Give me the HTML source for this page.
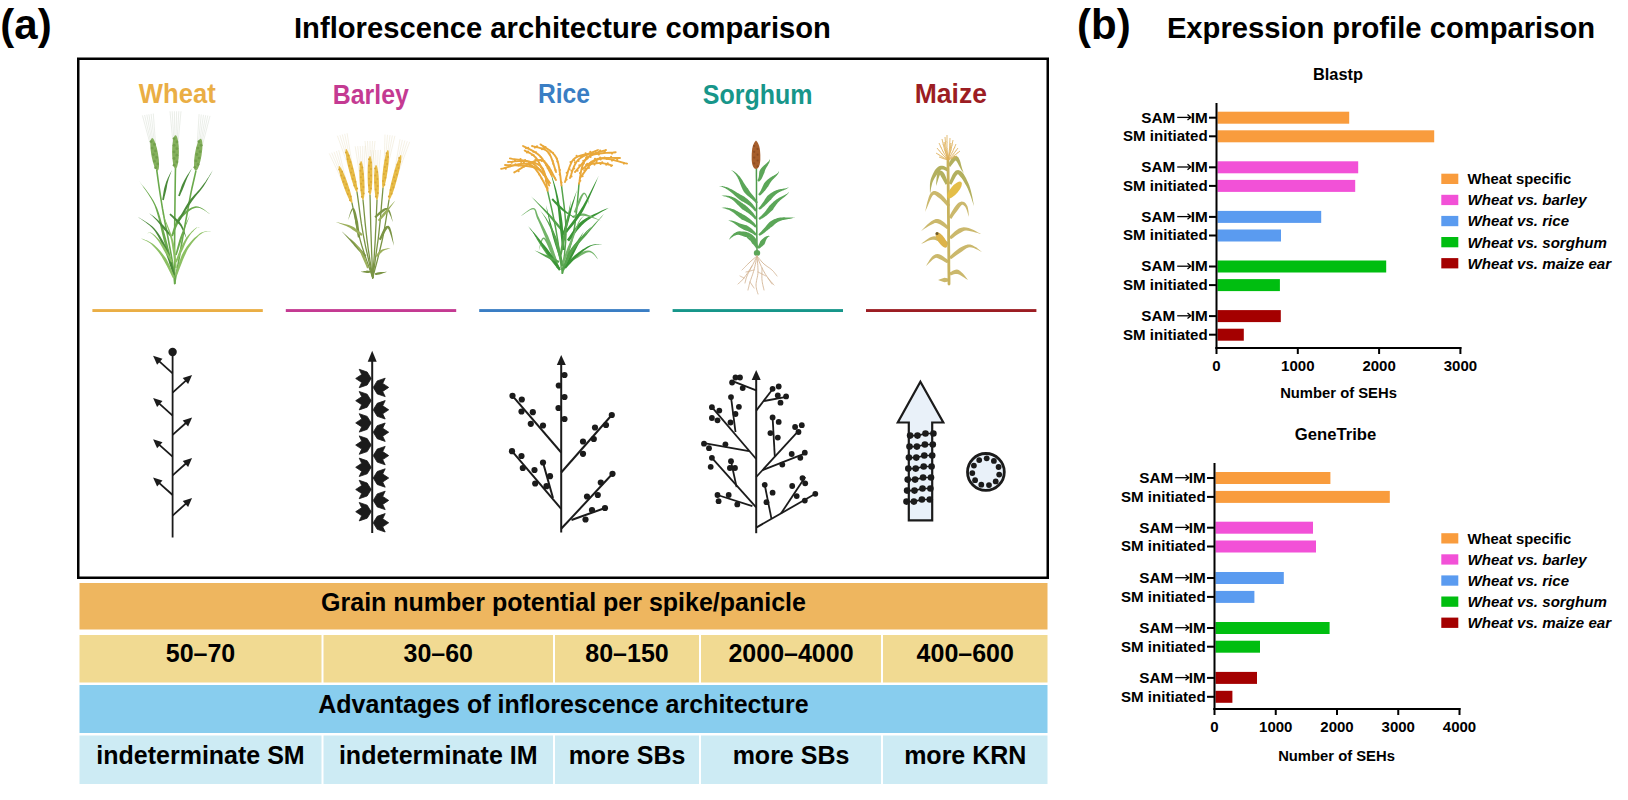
<!DOCTYPE html>
<html><head><meta charset="utf-8"><title>Inflorescence architecture and expression profile comparison</title>
<style>html,body{margin:0;padding:0;background:#fff;width:1628px;height:800px;overflow:hidden;font-family:"Liberation Sans",sans-serif}svg{display:block}</style>
</head><body><svg width="1628" height="800" viewBox="0 0 1628 800"><text x="0.3" y="38.5" font-family="Liberation Sans" font-size="42" font-weight="bold" font-style="normal" fill="#000" text-anchor="start" >(a)</text>
<text x="294" y="38.3" font-family="Liberation Sans" font-size="29.2" font-weight="bold" font-style="normal" fill="#000" text-anchor="start" >Inflorescence architecture comparison</text>
<text x="1077" y="38.5" font-family="Liberation Sans" font-size="42" font-weight="bold" font-style="normal" fill="#000" text-anchor="start" >(b)</text>
<text x="1166.9" y="38.2" font-family="Liberation Sans" font-size="29.2" font-weight="bold" font-style="normal" fill="#000" text-anchor="start" >Expression profile comparison</text>
<rect x="78.25" y="58.75" width="969.5" height="519" fill="none" stroke="#000" stroke-width="2.5"/>
<text x="138.8" y="102.6" font-family="Liberation Sans" font-size="27.5" font-weight="bold" font-style="normal" fill="#EAAE45" text-anchor="start" textLength="76.9" lengthAdjust="spacingAndGlyphs" >Wheat</text>
<text x="332.8" y="103.6" font-family="Liberation Sans" font-size="27.5" font-weight="bold" font-style="normal" fill="#C43A92" text-anchor="start" textLength="76.0" lengthAdjust="spacingAndGlyphs" >Barley</text>
<text x="538" y="102.6" font-family="Liberation Sans" font-size="27.5" font-weight="bold" font-style="normal" fill="#3A7EC4" text-anchor="start" textLength="52" lengthAdjust="spacingAndGlyphs" >Rice</text>
<text x="702.8" y="103.8" font-family="Liberation Sans" font-size="27.5" font-weight="bold" font-style="normal" fill="#17968A" text-anchor="start" textLength="109.7" lengthAdjust="spacingAndGlyphs" >Sorghum</text>
<text x="914.7" y="103" font-family="Liberation Sans" font-size="27.5" font-weight="bold" font-style="normal" fill="#9C1D23" text-anchor="start" textLength="72.2" lengthAdjust="spacingAndGlyphs" >Maize</text>
<rect x="92.4" y="309.1" width="170.4" height="2.9" fill="#EAAE45"/>
<rect x="285.8" y="309.1" width="170.4" height="2.9" fill="#C43A92"/>
<rect x="479.20000000000005" y="309.1" width="170.4" height="2.9" fill="#3A7EC4"/>
<rect x="672.6" y="309.1" width="170.4" height="2.9" fill="#17968A"/>
<rect x="866.0" y="309.1" width="170.4" height="2.9" fill="#9C1D23"/>
<rect x="79.5" y="583" width="968" height="46.5" fill="#EEB65F"/>
<rect x="79.5" y="685" width="968" height="48" fill="#88CDEE"/>
<rect x="79.5" y="635" width="242.0" height="47.5" fill="#F1DA92"/>
<rect x="79.5" y="735.5" width="242.0" height="48.5" fill="#CDEBF4"/>
<rect x="323.5" y="635" width="229.5" height="47.5" fill="#F1DA92"/>
<rect x="323.5" y="735.5" width="229.5" height="48.5" fill="#CDEBF4"/>
<rect x="555" y="635" width="144" height="47.5" fill="#F1DA92"/>
<rect x="555" y="735.5" width="144" height="48.5" fill="#CDEBF4"/>
<rect x="701" y="635" width="180" height="47.5" fill="#F1DA92"/>
<rect x="701" y="735.5" width="180" height="48.5" fill="#CDEBF4"/>
<rect x="883" y="635" width="164.5" height="47.5" fill="#F1DA92"/>
<rect x="883" y="735.5" width="164.5" height="48.5" fill="#CDEBF4"/>
<text x="563.5" y="611" font-family="Liberation Sans" font-size="25" font-weight="bold" font-style="normal" fill="#000" text-anchor="middle" >Grain number potential per spike/panicle</text>
<text x="563.5" y="712.7" font-family="Liberation Sans" font-size="25" font-weight="bold" font-style="normal" fill="#000" text-anchor="middle" >Advantages of inflorescence architecture</text>
<text x="200.5" y="662" font-family="Liberation Sans" font-size="25" font-weight="bold" font-style="normal" fill="#000" text-anchor="middle" >50–70</text>
<text x="200.5" y="764" font-family="Liberation Sans" font-size="25" font-weight="bold" font-style="normal" fill="#000" text-anchor="middle" >indeterminate SM</text>
<text x="438.25" y="662" font-family="Liberation Sans" font-size="25" font-weight="bold" font-style="normal" fill="#000" text-anchor="middle" >30–60</text>
<text x="438.25" y="764" font-family="Liberation Sans" font-size="25" font-weight="bold" font-style="normal" fill="#000" text-anchor="middle" >indeterminate IM</text>
<text x="627.0" y="662" font-family="Liberation Sans" font-size="25" font-weight="bold" font-style="normal" fill="#000" text-anchor="middle" >80–150</text>
<text x="627.0" y="764" font-family="Liberation Sans" font-size="25" font-weight="bold" font-style="normal" fill="#000" text-anchor="middle" >more SBs</text>
<text x="791.0" y="662" font-family="Liberation Sans" font-size="25" font-weight="bold" font-style="normal" fill="#000" text-anchor="middle" >2000–4000</text>
<text x="791.0" y="764" font-family="Liberation Sans" font-size="25" font-weight="bold" font-style="normal" fill="#000" text-anchor="middle" >more SBs</text>
<text x="965.25" y="662" font-family="Liberation Sans" font-size="25" font-weight="bold" font-style="normal" fill="#000" text-anchor="middle" >400–600</text>
<text x="965.25" y="764" font-family="Liberation Sans" font-size="25" font-weight="bold" font-style="normal" fill="#000" text-anchor="middle" >more KRN</text>
<rect x="1217.5" y="111.7" width="131.70000000000005" height="12" fill="#F99C3D"/>
<rect x="1209.0" y="116.7" width="7.5" height="2" fill="#000"/>
<text x="1207.7" y="122.60000000000001" font-family="Liberation Sans" font-size="15.3" font-weight="bold" font-style="normal" fill="#000" text-anchor="end" >IM</text>
<text x="1175.2" y="122.60000000000001" font-family="Liberation Sans" font-size="15.3" font-weight="bold" font-style="normal" fill="#000" text-anchor="end" >SAM</text>
<line x1="1177.2" y1="117.4" x2="1190.5" y2="117.4" stroke="#000" stroke-width="1.3"/>
<polyline points="1187.5,114.5 1190.8,117.4 1187.5,120.10000000000001" fill="none" stroke="#000" stroke-width="1.3"/>
<rect x="1217.5" y="130.3" width="216.70000000000005" height="12" fill="#F99C3D"/>
<rect x="1209.0" y="135.3" width="7.5" height="2" fill="#000"/>
<text x="1207.7" y="141.20000000000002" font-family="Liberation Sans" font-size="15.1" font-weight="bold" font-style="normal" fill="#000" text-anchor="end" >SM initiated</text>
<rect x="1217.5" y="161.3" width="140.70000000000005" height="12" fill="#F251D7"/>
<rect x="1209.0" y="166.3" width="7.5" height="2" fill="#000"/>
<text x="1207.7" y="172.20000000000002" font-family="Liberation Sans" font-size="15.3" font-weight="bold" font-style="normal" fill="#000" text-anchor="end" >IM</text>
<text x="1175.2" y="172.20000000000002" font-family="Liberation Sans" font-size="15.3" font-weight="bold" font-style="normal" fill="#000" text-anchor="end" >SAM</text>
<line x1="1177.2" y1="167.0" x2="1190.5" y2="167.0" stroke="#000" stroke-width="1.3"/>
<polyline points="1187.5,164.10000000000002 1190.8,167.0 1187.5,169.70000000000002" fill="none" stroke="#000" stroke-width="1.3"/>
<rect x="1217.5" y="179.9" width="137.70000000000005" height="12" fill="#F251D7"/>
<rect x="1209.0" y="184.9" width="7.5" height="2" fill="#000"/>
<text x="1207.7" y="190.8" font-family="Liberation Sans" font-size="15.1" font-weight="bold" font-style="normal" fill="#000" text-anchor="end" >SM initiated</text>
<rect x="1217.5" y="210.9" width="103.70000000000005" height="12" fill="#5A9BF0"/>
<rect x="1209.0" y="215.9" width="7.5" height="2" fill="#000"/>
<text x="1207.7" y="221.8" font-family="Liberation Sans" font-size="15.3" font-weight="bold" font-style="normal" fill="#000" text-anchor="end" >IM</text>
<text x="1175.2" y="221.8" font-family="Liberation Sans" font-size="15.3" font-weight="bold" font-style="normal" fill="#000" text-anchor="end" >SAM</text>
<line x1="1177.2" y1="216.6" x2="1190.5" y2="216.6" stroke="#000" stroke-width="1.3"/>
<polyline points="1187.5,213.70000000000002 1190.8,216.6 1187.5,219.3" fill="none" stroke="#000" stroke-width="1.3"/>
<rect x="1217.5" y="229.5" width="63.5" height="12" fill="#5A9BF0"/>
<rect x="1209.0" y="234.5" width="7.5" height="2" fill="#000"/>
<text x="1207.7" y="240.4" font-family="Liberation Sans" font-size="15.1" font-weight="bold" font-style="normal" fill="#000" text-anchor="end" >SM initiated</text>
<rect x="1217.5" y="260.5" width="168.70000000000005" height="12" fill="#00BE10"/>
<rect x="1209.0" y="265.5" width="7.5" height="2" fill="#000"/>
<text x="1207.7" y="271.4" font-family="Liberation Sans" font-size="15.3" font-weight="bold" font-style="normal" fill="#000" text-anchor="end" >IM</text>
<text x="1175.2" y="271.4" font-family="Liberation Sans" font-size="15.3" font-weight="bold" font-style="normal" fill="#000" text-anchor="end" >SAM</text>
<line x1="1177.2" y1="266.2" x2="1190.5" y2="266.2" stroke="#000" stroke-width="1.3"/>
<polyline points="1187.5,263.3 1190.8,266.2 1187.5,268.9" fill="none" stroke="#000" stroke-width="1.3"/>
<rect x="1217.5" y="279.1" width="62.40000000000009" height="12" fill="#00BE10"/>
<rect x="1209.0" y="284.1" width="7.5" height="2" fill="#000"/>
<text x="1207.7" y="290.0" font-family="Liberation Sans" font-size="15.1" font-weight="bold" font-style="normal" fill="#000" text-anchor="end" >SM initiated</text>
<rect x="1217.5" y="310.1" width="63.299999999999955" height="12" fill="#A40000"/>
<rect x="1209.0" y="315.1" width="7.5" height="2" fill="#000"/>
<text x="1207.7" y="321.0" font-family="Liberation Sans" font-size="15.3" font-weight="bold" font-style="normal" fill="#000" text-anchor="end" >IM</text>
<text x="1175.2" y="321.0" font-family="Liberation Sans" font-size="15.3" font-weight="bold" font-style="normal" fill="#000" text-anchor="end" >SAM</text>
<line x1="1177.2" y1="315.8" x2="1190.5" y2="315.8" stroke="#000" stroke-width="1.3"/>
<polyline points="1187.5,312.90000000000003 1190.8,315.8 1187.5,318.5" fill="none" stroke="#000" stroke-width="1.3"/>
<rect x="1217.5" y="328.7" width="26.299999999999955" height="12" fill="#A40000"/>
<rect x="1209.0" y="333.7" width="7.5" height="2" fill="#000"/>
<text x="1207.7" y="339.59999999999997" font-family="Liberation Sans" font-size="15.1" font-weight="bold" font-style="normal" fill="#000" text-anchor="end" >SM initiated</text>
<rect x="1215.5" y="103" width="2" height="246" fill="#000"/>
<rect x="1215.5" y="347" width="245.9000000000001" height="2" fill="#000"/>
<rect x="1215.5" y="347" width="2" height="7" fill="#000"/>
<text x="1216.5" y="370.7" font-family="Liberation Sans" font-size="15" font-weight="bold" font-style="normal" fill="#000" text-anchor="middle" >0</text>
<rect x="1296.8" y="347" width="2" height="7" fill="#000"/>
<text x="1297.8" y="370.7" font-family="Liberation Sans" font-size="15" font-weight="bold" font-style="normal" fill="#000" text-anchor="middle" >1000</text>
<rect x="1378.1" y="347" width="2" height="7" fill="#000"/>
<text x="1379.1" y="370.7" font-family="Liberation Sans" font-size="15" font-weight="bold" font-style="normal" fill="#000" text-anchor="middle" >2000</text>
<rect x="1459.4" y="347" width="2" height="7" fill="#000"/>
<text x="1460.4" y="370.7" font-family="Liberation Sans" font-size="15" font-weight="bold" font-style="normal" fill="#000" text-anchor="middle" >3000</text>
<text x="1338.5" y="398.3" font-family="Liberation Sans" font-size="14.8" font-weight="bold" font-style="normal" fill="#000" text-anchor="middle" >Number of SEHs</text>
<text x="1313" y="80.3" font-family="Liberation Sans" font-size="16.8" font-weight="bold" font-style="normal" fill="#000" text-anchor="start" textLength="50" lengthAdjust="spacingAndGlyphs" >Blastp</text>
<rect x="1441.3" y="173.7" width="17" height="10.3" fill="#F99C3D"/>
<text x="1467.6" y="184.2" font-family="Liberation Sans" font-size="14.8" font-weight="bold" font-style="normal" fill="#000" text-anchor="start" >Wheat specific</text>
<rect x="1441.3" y="194.79999999999998" width="17" height="10.3" fill="#F251D7"/>
<text x="1467.6" y="205.29999999999998" font-family="Liberation Sans" font-size="15.1" font-weight="bold" font-style="italic" fill="#000" text-anchor="start" >Wheat vs. barley</text>
<rect x="1441.3" y="215.89999999999998" width="17" height="10.3" fill="#5A9BF0"/>
<text x="1467.6" y="226.39999999999998" font-family="Liberation Sans" font-size="15.1" font-weight="bold" font-style="italic" fill="#000" text-anchor="start" >Wheat vs. rice</text>
<rect x="1441.3" y="237.0" width="17" height="10.3" fill="#00BE10"/>
<text x="1467.6" y="247.5" font-family="Liberation Sans" font-size="15.1" font-weight="bold" font-style="italic" fill="#000" text-anchor="start" >Wheat vs. sorghum</text>
<rect x="1441.3" y="258.1" width="17" height="10.3" fill="#A40000"/>
<text x="1467.6" y="268.6" font-family="Liberation Sans" font-size="15.1" font-weight="bold" font-style="italic" fill="#000" text-anchor="start" >Wheat vs. maize ear</text>
<rect x="1215.5" y="472" width="114.90000000000009" height="12" fill="#F99C3D"/>
<rect x="1207.0" y="477" width="7.5" height="2" fill="#000"/>
<text x="1205.7" y="482.9" font-family="Liberation Sans" font-size="15.3" font-weight="bold" font-style="normal" fill="#000" text-anchor="end" >IM</text>
<text x="1173.2" y="482.9" font-family="Liberation Sans" font-size="15.3" font-weight="bold" font-style="normal" fill="#000" text-anchor="end" >SAM</text>
<line x1="1175.2" y1="477.7" x2="1188.5" y2="477.7" stroke="#000" stroke-width="1.3"/>
<polyline points="1185.5,474.8 1188.8,477.7 1185.5,480.4" fill="none" stroke="#000" stroke-width="1.3"/>
<rect x="1215.5" y="490.9" width="174.29999999999995" height="12" fill="#F99C3D"/>
<rect x="1207.0" y="495.9" width="7.5" height="2" fill="#000"/>
<text x="1205.7" y="501.79999999999995" font-family="Liberation Sans" font-size="15.1" font-weight="bold" font-style="normal" fill="#000" text-anchor="end" >SM initiated</text>
<rect x="1215.5" y="521.7" width="97.5" height="12" fill="#F251D7"/>
<rect x="1207.0" y="526.7" width="7.5" height="2" fill="#000"/>
<text x="1205.7" y="532.6" font-family="Liberation Sans" font-size="15.3" font-weight="bold" font-style="normal" fill="#000" text-anchor="end" >IM</text>
<text x="1173.2" y="532.6" font-family="Liberation Sans" font-size="15.3" font-weight="bold" font-style="normal" fill="#000" text-anchor="end" >SAM</text>
<line x1="1175.2" y1="527.4000000000001" x2="1188.5" y2="527.4000000000001" stroke="#000" stroke-width="1.3"/>
<polyline points="1185.5,524.5 1188.8,527.4000000000001 1185.5,530.1" fill="none" stroke="#000" stroke-width="1.3"/>
<rect x="1215.5" y="540.5" width="100.5" height="12" fill="#F251D7"/>
<rect x="1207.0" y="545.5" width="7.5" height="2" fill="#000"/>
<text x="1205.7" y="551.4" font-family="Liberation Sans" font-size="15.1" font-weight="bold" font-style="normal" fill="#000" text-anchor="end" >SM initiated</text>
<rect x="1215.5" y="572" width="68.29999999999995" height="12" fill="#5A9BF0"/>
<rect x="1207.0" y="577" width="7.5" height="2" fill="#000"/>
<text x="1205.7" y="582.9" font-family="Liberation Sans" font-size="15.3" font-weight="bold" font-style="normal" fill="#000" text-anchor="end" >IM</text>
<text x="1173.2" y="582.9" font-family="Liberation Sans" font-size="15.3" font-weight="bold" font-style="normal" fill="#000" text-anchor="end" >SAM</text>
<line x1="1175.2" y1="577.7" x2="1188.5" y2="577.7" stroke="#000" stroke-width="1.3"/>
<polyline points="1185.5,574.8 1188.8,577.7 1185.5,580.4" fill="none" stroke="#000" stroke-width="1.3"/>
<rect x="1215.5" y="590.9" width="38.90000000000009" height="12" fill="#5A9BF0"/>
<rect x="1207.0" y="595.9" width="7.5" height="2" fill="#000"/>
<text x="1205.7" y="601.8" font-family="Liberation Sans" font-size="15.1" font-weight="bold" font-style="normal" fill="#000" text-anchor="end" >SM initiated</text>
<rect x="1215.5" y="622" width="114.09999999999991" height="12" fill="#00BE10"/>
<rect x="1207.0" y="627" width="7.5" height="2" fill="#000"/>
<text x="1205.7" y="632.9" font-family="Liberation Sans" font-size="15.3" font-weight="bold" font-style="normal" fill="#000" text-anchor="end" >IM</text>
<text x="1173.2" y="632.9" font-family="Liberation Sans" font-size="15.3" font-weight="bold" font-style="normal" fill="#000" text-anchor="end" >SAM</text>
<line x1="1175.2" y1="627.7" x2="1188.5" y2="627.7" stroke="#000" stroke-width="1.3"/>
<polyline points="1185.5,624.8 1188.8,627.7 1185.5,630.4" fill="none" stroke="#000" stroke-width="1.3"/>
<rect x="1215.5" y="640.7" width="44.5" height="12" fill="#00BE10"/>
<rect x="1207.0" y="645.7" width="7.5" height="2" fill="#000"/>
<text x="1205.7" y="651.6" font-family="Liberation Sans" font-size="15.1" font-weight="bold" font-style="normal" fill="#000" text-anchor="end" >SM initiated</text>
<rect x="1215.5" y="671.9" width="41.5" height="12" fill="#A40000"/>
<rect x="1207.0" y="676.9" width="7.5" height="2" fill="#000"/>
<text x="1205.7" y="682.8" font-family="Liberation Sans" font-size="15.3" font-weight="bold" font-style="normal" fill="#000" text-anchor="end" >IM</text>
<text x="1173.2" y="682.8" font-family="Liberation Sans" font-size="15.3" font-weight="bold" font-style="normal" fill="#000" text-anchor="end" >SAM</text>
<line x1="1175.2" y1="677.6" x2="1188.5" y2="677.6" stroke="#000" stroke-width="1.3"/>
<polyline points="1185.5,674.6999999999999 1188.8,677.6 1185.5,680.3" fill="none" stroke="#000" stroke-width="1.3"/>
<rect x="1215.5" y="690.8" width="16.90000000000009" height="12" fill="#A40000"/>
<rect x="1207.0" y="695.8" width="7.5" height="2" fill="#000"/>
<text x="1205.7" y="701.6999999999999" font-family="Liberation Sans" font-size="15.1" font-weight="bold" font-style="normal" fill="#000" text-anchor="end" >SM initiated</text>
<rect x="1213.5" y="463" width="2" height="247" fill="#000"/>
<rect x="1213.5" y="708" width="247.0" height="2" fill="#000"/>
<rect x="1213.5" y="708" width="2" height="7" fill="#000"/>
<text x="1214.5" y="732.1" font-family="Liberation Sans" font-size="15" font-weight="bold" font-style="normal" fill="#000" text-anchor="middle" >0</text>
<rect x="1274.75" y="708" width="2" height="7" fill="#000"/>
<text x="1275.75" y="732.1" font-family="Liberation Sans" font-size="15" font-weight="bold" font-style="normal" fill="#000" text-anchor="middle" >1000</text>
<rect x="1336.0" y="708" width="2" height="7" fill="#000"/>
<text x="1337.0" y="732.1" font-family="Liberation Sans" font-size="15" font-weight="bold" font-style="normal" fill="#000" text-anchor="middle" >2000</text>
<rect x="1397.25" y="708" width="2" height="7" fill="#000"/>
<text x="1398.25" y="732.1" font-family="Liberation Sans" font-size="15" font-weight="bold" font-style="normal" fill="#000" text-anchor="middle" >3000</text>
<rect x="1458.5" y="708" width="2" height="7" fill="#000"/>
<text x="1459.5" y="732.1" font-family="Liberation Sans" font-size="15" font-weight="bold" font-style="normal" fill="#000" text-anchor="middle" >4000</text>
<text x="1336.5" y="760.5" font-family="Liberation Sans" font-size="14.8" font-weight="bold" font-style="normal" fill="#000" text-anchor="middle" >Number of SEHs</text>
<text x="1294.8" y="440.4" font-family="Liberation Sans" font-size="16.8" font-weight="bold" font-style="normal" fill="#000" text-anchor="start" textLength="81.5" lengthAdjust="spacingAndGlyphs" >GeneTribe</text>
<rect x="1441.3" y="533.2" width="17" height="10.3" fill="#F99C3D"/>
<text x="1467.6" y="543.7" font-family="Liberation Sans" font-size="14.8" font-weight="bold" font-style="normal" fill="#000" text-anchor="start" >Wheat specific</text>
<rect x="1441.3" y="554.3000000000001" width="17" height="10.3" fill="#F251D7"/>
<text x="1467.6" y="564.8000000000001" font-family="Liberation Sans" font-size="15.1" font-weight="bold" font-style="italic" fill="#000" text-anchor="start" >Wheat vs. barley</text>
<rect x="1441.3" y="575.4000000000001" width="17" height="10.3" fill="#5A9BF0"/>
<text x="1467.6" y="585.9000000000001" font-family="Liberation Sans" font-size="15.1" font-weight="bold" font-style="italic" fill="#000" text-anchor="start" >Wheat vs. rice</text>
<rect x="1441.3" y="596.5" width="17" height="10.3" fill="#00BE10"/>
<text x="1467.6" y="607.0" font-family="Liberation Sans" font-size="15.1" font-weight="bold" font-style="italic" fill="#000" text-anchor="start" >Wheat vs. sorghum</text>
<rect x="1441.3" y="617.6" width="17" height="10.3" fill="#A40000"/>
<text x="1467.6" y="628.1" font-family="Liberation Sans" font-size="15.1" font-weight="bold" font-style="italic" fill="#000" text-anchor="start" >Wheat vs. maize ear</text>
<line x1="172.6" y1="352.0" x2="172.6" y2="537.5" stroke="#1b1b1b" stroke-width="1.8"/>
<circle cx="172.6" cy="352.0" r="4.2" fill="#1b1b1b"/>
<line x1="172.6" y1="373.3" x2="157.1" y2="359.4" stroke="#1b1b1b" stroke-width="1.8"/>
<polygon points="153.1,355.8 162.5,358.8 157.1,364.8" fill="#1b1b1b"/>
<line x1="172.6" y1="415.6" x2="157.1" y2="401.7" stroke="#1b1b1b" stroke-width="1.8"/>
<polygon points="153.1,398.1 162.5,401.1 157.1,407.1" fill="#1b1b1b"/>
<line x1="172.6" y1="456.7" x2="157.1" y2="442.8" stroke="#1b1b1b" stroke-width="1.8"/>
<polygon points="153.1,439.2 162.5,442.2 157.1,448.2" fill="#1b1b1b"/>
<line x1="172.6" y1="495.0" x2="157.1" y2="481.1" stroke="#1b1b1b" stroke-width="1.8"/>
<polygon points="153.1,477.5 162.5,480.5 157.1,486.5" fill="#1b1b1b"/>
<line x1="172.6" y1="392.6" x2="188.1" y2="378.7" stroke="#1b1b1b" stroke-width="1.8"/>
<polygon points="192.1,375.1 188.1,384.1 182.7,378.1" fill="#1b1b1b"/>
<line x1="172.6" y1="434.9" x2="188.1" y2="421.0" stroke="#1b1b1b" stroke-width="1.8"/>
<polygon points="192.1,417.4 188.1,426.4 182.7,420.4" fill="#1b1b1b"/>
<line x1="172.6" y1="475.4" x2="188.1" y2="461.5" stroke="#1b1b1b" stroke-width="1.8"/>
<polygon points="192.1,457.9 188.1,466.9 182.7,460.9" fill="#1b1b1b"/>
<line x1="172.6" y1="515.6" x2="188.1" y2="501.7" stroke="#1b1b1b" stroke-width="1.8"/>
<polygon points="192.1,498.1 188.1,507.1 182.7,501.1" fill="#1b1b1b"/>
<line x1="372.2" y1="358.0" x2="372.2" y2="533.0" stroke="#1b1b1b" stroke-width="2"/>
<polygon points="372.2,350.8 376.7,361.8 367.7,361.8" fill="#1b1b1b"/>
<polygon points="371.2,378.5 367.2,372.0 359.2,369.3 361.7,374.5 355.7,378.5 361.7,382.5 359.2,387.7 367.2,385.0" fill="#1b1b1b" stroke="#1b1b1b" stroke-width="0.8" stroke-linejoin="round"/>
<polygon points="371.2,400.7 367.2,394.2 359.2,391.5 361.7,396.7 355.7,400.7 361.7,404.7 359.2,409.9 367.2,407.2" fill="#1b1b1b" stroke="#1b1b1b" stroke-width="0.8" stroke-linejoin="round"/>
<polygon points="371.2,422.9 367.2,416.4 359.2,413.7 361.7,418.9 355.7,422.9 361.7,426.9 359.2,432.1 367.2,429.4" fill="#1b1b1b" stroke="#1b1b1b" stroke-width="0.8" stroke-linejoin="round"/>
<polygon points="371.2,445.1 367.2,438.6 359.2,435.9 361.7,441.1 355.7,445.1 361.7,449.1 359.2,454.3 367.2,451.6" fill="#1b1b1b" stroke="#1b1b1b" stroke-width="0.8" stroke-linejoin="round"/>
<polygon points="371.2,467.3 367.2,460.8 359.2,458.1 361.7,463.3 355.7,467.3 361.7,471.3 359.2,476.5 367.2,473.8" fill="#1b1b1b" stroke="#1b1b1b" stroke-width="0.8" stroke-linejoin="round"/>
<polygon points="371.2,489.5 367.2,483.0 359.2,480.3 361.7,485.5 355.7,489.5 361.7,493.5 359.2,498.7 367.2,496.0" fill="#1b1b1b" stroke="#1b1b1b" stroke-width="0.8" stroke-linejoin="round"/>
<polygon points="371.2,511.7 367.2,505.2 359.2,502.5 361.7,507.7 355.7,511.7 361.7,515.7 359.2,520.9 367.2,518.2" fill="#1b1b1b" stroke="#1b1b1b" stroke-width="0.8" stroke-linejoin="round"/>
<polygon points="373.2,387.4 377.2,380.9 385.2,378.2 382.7,383.4 388.7,387.4 382.7,391.4 385.2,396.6 377.2,393.9" fill="#1b1b1b" stroke="#1b1b1b" stroke-width="0.8" stroke-linejoin="round"/>
<polygon points="373.2,409.8 377.2,403.3 385.2,400.6 382.7,405.8 388.7,409.8 382.7,413.8 385.2,419.0 377.2,416.3" fill="#1b1b1b" stroke="#1b1b1b" stroke-width="0.8" stroke-linejoin="round"/>
<polygon points="373.2,432.2 377.2,425.7 385.2,423.0 382.7,428.2 388.7,432.2 382.7,436.2 385.2,441.4 377.2,438.7" fill="#1b1b1b" stroke="#1b1b1b" stroke-width="0.8" stroke-linejoin="round"/>
<polygon points="373.2,455.6 377.2,449.1 385.2,446.4 382.7,451.6 388.7,455.6 382.7,459.6 385.2,464.8 377.2,462.1" fill="#1b1b1b" stroke="#1b1b1b" stroke-width="0.8" stroke-linejoin="round"/>
<polygon points="373.2,478.0 377.2,471.5 385.2,468.8 382.7,474.0 388.7,478.0 382.7,482.0 385.2,487.2 377.2,484.5" fill="#1b1b1b" stroke="#1b1b1b" stroke-width="0.8" stroke-linejoin="round"/>
<polygon points="373.2,500.4 377.2,493.9 385.2,491.2 382.7,496.4 388.7,500.4 382.7,504.4 385.2,509.6 377.2,506.9" fill="#1b1b1b" stroke="#1b1b1b" stroke-width="0.8" stroke-linejoin="round"/>
<polygon points="373.2,522.8 377.2,516.3 385.2,513.6 382.7,518.8 388.7,522.8 382.7,526.8 385.2,532.0 377.2,529.3" fill="#1b1b1b" stroke="#1b1b1b" stroke-width="0.8" stroke-linejoin="round"/>
<line x1="561.2" y1="362.0" x2="561.2" y2="532.5" stroke="#1b1b1b" stroke-width="2"/>
<polygon points="561.2,355.0 565.8,365.0 556.8,365.0" fill="#1b1b1b"/>
<circle cx="564.5" cy="375.0" r="3.1" fill="#1b1b1b"/>
<circle cx="558.8" cy="385.5" r="3.1" fill="#1b1b1b"/>
<circle cx="564.5" cy="397.0" r="3.1" fill="#1b1b1b"/>
<circle cx="558.5" cy="408.0" r="3.1" fill="#1b1b1b"/>
<circle cx="564.5" cy="419.0" r="3.1" fill="#1b1b1b"/>
<line x1="561.2" y1="452.5" x2="512.5" y2="395.8" stroke="#1b1b1b" stroke-width="2"/>
<circle cx="512.5" cy="395.8" r="3.1" fill="#1b1b1b"/>
<circle cx="521.8" cy="399.5" r="3.1" fill="#1b1b1b"/>
<circle cx="521.5" cy="411.5" r="3.1" fill="#1b1b1b"/>
<circle cx="532.8" cy="412.2" r="3.1" fill="#1b1b1b"/>
<circle cx="530.8" cy="423.8" r="3.1" fill="#1b1b1b"/>
<circle cx="543.0" cy="425.5" r="3.1" fill="#1b1b1b"/>
<line x1="561.2" y1="472.5" x2="611.8" y2="415.0" stroke="#1b1b1b" stroke-width="2"/>
<circle cx="611.8" cy="415.0" r="3.1" fill="#1b1b1b"/>
<circle cx="606.0" cy="425.0" r="3.1" fill="#1b1b1b"/>
<circle cx="595.0" cy="427.5" r="3.1" fill="#1b1b1b"/>
<circle cx="593.8" cy="439.0" r="3.1" fill="#1b1b1b"/>
<circle cx="583.0" cy="441.5" r="3.1" fill="#1b1b1b"/>
<circle cx="583.0" cy="453.8" r="3.1" fill="#1b1b1b"/>
<line x1="561.2" y1="508.8" x2="512.0" y2="451.2" stroke="#1b1b1b" stroke-width="2"/>
<line x1="553.0" y1="498.0" x2="543.0" y2="462.5" stroke="#1b1b1b" stroke-width="2"/>
<circle cx="512.0" cy="451.2" r="3.1" fill="#1b1b1b"/>
<circle cx="521.5" cy="456.0" r="3.1" fill="#1b1b1b"/>
<circle cx="522.8" cy="468.0" r="3.1" fill="#1b1b1b"/>
<circle cx="534.5" cy="470.0" r="3.1" fill="#1b1b1b"/>
<circle cx="535.2" cy="483.5" r="3.1" fill="#1b1b1b"/>
<circle cx="543.0" cy="462.5" r="3.1" fill="#1b1b1b"/>
<circle cx="550.0" cy="476.2" r="3.1" fill="#1b1b1b"/>
<circle cx="546.5" cy="486.2" r="3.1" fill="#1b1b1b"/>
<line x1="561.2" y1="528.8" x2="612.5" y2="473.8" stroke="#1b1b1b" stroke-width="2"/>
<line x1="571.5" y1="520.0" x2="605.0" y2="508.0" stroke="#1b1b1b" stroke-width="2"/>
<circle cx="612.5" cy="473.8" r="3.1" fill="#1b1b1b"/>
<circle cx="600.8" cy="482.5" r="3.1" fill="#1b1b1b"/>
<circle cx="597.8" cy="495.0" r="3.1" fill="#1b1b1b"/>
<circle cx="587.0" cy="496.5" r="3.1" fill="#1b1b1b"/>
<circle cx="605.0" cy="508.0" r="3.1" fill="#1b1b1b"/>
<circle cx="592.0" cy="510.0" r="3.1" fill="#1b1b1b"/>
<circle cx="585.5" cy="519.5" r="3.1" fill="#1b1b1b"/>
<line x1="756.2" y1="377.0" x2="756.2" y2="533.2" stroke="#1b1b1b" stroke-width="2"/>
<polygon points="756.2,370.1 760.7,380.1 751.7,380.1" fill="#1b1b1b"/>
<line x1="756.2" y1="390.4" x2="733.2" y2="381.4" stroke="#1b1b1b" stroke-width="1.8"/>
<circle cx="732.1" cy="382.5" r="2.9" fill="#1b1b1b"/>
<circle cx="735.5" cy="377.5" r="2.9" fill="#1b1b1b"/>
<circle cx="740.0" cy="377.5" r="2.9" fill="#1b1b1b"/>
<circle cx="742.7" cy="388.1" r="2.9" fill="#1b1b1b"/>
<line x1="756.2" y1="410.6" x2="772.6" y2="389.2" stroke="#1b1b1b" stroke-width="1.8"/>
<circle cx="772.6" cy="388.8" r="2.9" fill="#1b1b1b"/>
<circle cx="778.7" cy="386.5" r="2.9" fill="#1b1b1b"/>
<line x1="764.0" y1="401.0" x2="785.0" y2="397.1" stroke="#1b1b1b" stroke-width="1.8"/>
<circle cx="777.8" cy="395.5" r="2.9" fill="#1b1b1b"/>
<circle cx="786.1" cy="396.4" r="2.9" fill="#1b1b1b"/>
<circle cx="780.5" cy="402.7" r="2.9" fill="#1b1b1b"/>
<line x1="756.2" y1="459.0" x2="711.9" y2="407.2" stroke="#1b1b1b" stroke-width="1.8"/>
<circle cx="711.9" cy="407.2" r="2.9" fill="#1b1b1b"/>
<circle cx="719.3" cy="410.6" r="2.9" fill="#1b1b1b"/>
<circle cx="711.9" cy="418.0" r="2.9" fill="#1b1b1b"/>
<circle cx="717.5" cy="420.3" r="2.9" fill="#1b1b1b"/>
<line x1="735.5" y1="432.0" x2="731.0" y2="397.1" stroke="#1b1b1b" stroke-width="1.8"/>
<circle cx="731.0" cy="397.1" r="2.9" fill="#1b1b1b"/>
<circle cx="738.9" cy="406.8" r="2.9" fill="#1b1b1b"/>
<circle cx="735.5" cy="414.0" r="2.9" fill="#1b1b1b"/>
<circle cx="730.5" cy="422.5" r="2.9" fill="#1b1b1b"/>
<line x1="749.0" y1="451.1" x2="704.0" y2="443.2" stroke="#1b1b1b" stroke-width="1.8"/>
<circle cx="704.0" cy="443.7" r="2.9" fill="#1b1b1b"/>
<circle cx="709.0" cy="448.2" r="2.9" fill="#1b1b1b"/>
<circle cx="725.4" cy="444.3" r="2.9" fill="#1b1b1b"/>
<line x1="756.2" y1="477.0" x2="798.5" y2="430.9" stroke="#1b1b1b" stroke-width="1.8"/>
<circle cx="795.1" cy="427.0" r="2.9" fill="#1b1b1b"/>
<circle cx="801.8" cy="425.2" r="2.9" fill="#1b1b1b"/>
<circle cx="798.5" cy="432.0" r="2.9" fill="#1b1b1b"/>
<line x1="774.8" y1="456.5" x2="772.6" y2="417.4" stroke="#1b1b1b" stroke-width="1.8"/>
<circle cx="772.6" cy="417.4" r="2.9" fill="#1b1b1b"/>
<circle cx="778.7" cy="421.9" r="2.9" fill="#1b1b1b"/>
<circle cx="770.4" cy="433.1" r="2.9" fill="#1b1b1b"/>
<circle cx="777.8" cy="437.6" r="2.9" fill="#1b1b1b"/>
<line x1="762.5" y1="470.2" x2="805.2" y2="453.3" stroke="#1b1b1b" stroke-width="1.8"/>
<circle cx="791.7" cy="454.0" r="2.9" fill="#1b1b1b"/>
<circle cx="804.8" cy="452.7" r="2.9" fill="#1b1b1b"/>
<circle cx="800.3" cy="457.8" r="2.9" fill="#1b1b1b"/>
<circle cx="782.3" cy="464.6" r="2.9" fill="#1b1b1b"/>
<line x1="756.2" y1="507.3" x2="711.9" y2="457.8" stroke="#1b1b1b" stroke-width="1.8"/>
<circle cx="711.9" cy="457.8" r="2.9" fill="#1b1b1b"/>
<circle cx="710.7" cy="466.8" r="2.9" fill="#1b1b1b"/>
<line x1="736.6" y1="487.1" x2="731.0" y2="461.2" stroke="#1b1b1b" stroke-width="1.8"/>
<circle cx="731.0" cy="461.2" r="2.9" fill="#1b1b1b"/>
<circle cx="729.9" cy="468.0" r="2.9" fill="#1b1b1b"/>
<circle cx="735.0" cy="468.0" r="2.9" fill="#1b1b1b"/>
<line x1="752.4" y1="506.2" x2="717.5" y2="495.0" stroke="#1b1b1b" stroke-width="1.8"/>
<circle cx="717.5" cy="495.0" r="2.9" fill="#1b1b1b"/>
<circle cx="718.6" cy="501.2" r="2.9" fill="#1b1b1b"/>
<circle cx="728.7" cy="495.0" r="2.9" fill="#1b1b1b"/>
<circle cx="737.3" cy="504.4" r="2.9" fill="#1b1b1b"/>
<line x1="756.2" y1="527.6" x2="815.3" y2="493.8" stroke="#1b1b1b" stroke-width="1.8"/>
<circle cx="815.3" cy="493.8" r="2.9" fill="#1b1b1b"/>
<circle cx="796.7" cy="496.1" r="2.9" fill="#1b1b1b"/>
<circle cx="804.8" cy="500.6" r="2.9" fill="#1b1b1b"/>
<line x1="771.5" y1="518.9" x2="764.7" y2="484.8" stroke="#1b1b1b" stroke-width="1.8"/>
<circle cx="764.7" cy="484.8" r="2.9" fill="#1b1b1b"/>
<circle cx="772.6" cy="492.7" r="2.9" fill="#1b1b1b"/>
<circle cx="766.5" cy="502.2" r="2.9" fill="#1b1b1b"/>
<line x1="781.0" y1="513.5" x2="805.2" y2="477.0" stroke="#1b1b1b" stroke-width="1.8"/>
<circle cx="802.5" cy="478.1" r="2.9" fill="#1b1b1b"/>
<circle cx="805.2" cy="483.3" r="2.9" fill="#1b1b1b"/>
<circle cx="792.2" cy="486.0" r="2.9" fill="#1b1b1b"/>
<polygon points="920.4,381.8 943.3,422.5 932.2,422.5 932.2,520.3 908.8,520.3 908.8,422.5 897.8,422.5" fill="#E9F1F9" stroke="#1b1b1b" stroke-width="2.2" stroke-linejoin="miter"/>
<polyline points="910.1,435.6 917.5,435.6 925.5,433.5 933.4,433.5" fill="none" stroke="#1b1b1b" stroke-width="1.6"/>
<circle cx="910.1" cy="435.6" r="3.3" fill="#1b1b1b"/>
<circle cx="917.5" cy="435.6" r="3.3" fill="#1b1b1b"/>
<circle cx="925.5" cy="433.5" r="3.3" fill="#1b1b1b"/>
<circle cx="933.4" cy="433.5" r="3.3" fill="#1b1b1b"/>
<polyline points="909.5,446.6 916.9,446.6 924.9,444.5 932.8,444.5" fill="none" stroke="#1b1b1b" stroke-width="1.6"/>
<circle cx="909.5" cy="446.6" r="3.3" fill="#1b1b1b"/>
<circle cx="916.9" cy="446.6" r="3.3" fill="#1b1b1b"/>
<circle cx="924.9" cy="444.5" r="3.3" fill="#1b1b1b"/>
<circle cx="932.8" cy="444.5" r="3.3" fill="#1b1b1b"/>
<polyline points="908.9,457.6 916.3,457.6 924.3,455.5 932.2,455.5" fill="none" stroke="#1b1b1b" stroke-width="1.6"/>
<circle cx="908.9" cy="457.6" r="3.3" fill="#1b1b1b"/>
<circle cx="916.3" cy="457.6" r="3.3" fill="#1b1b1b"/>
<circle cx="924.3" cy="455.5" r="3.3" fill="#1b1b1b"/>
<circle cx="932.2" cy="455.5" r="3.3" fill="#1b1b1b"/>
<polyline points="908.3,468.6 915.7,468.6 923.7,466.5 931.6,466.5" fill="none" stroke="#1b1b1b" stroke-width="1.6"/>
<circle cx="908.3" cy="468.6" r="3.3" fill="#1b1b1b"/>
<circle cx="915.7" cy="468.6" r="3.3" fill="#1b1b1b"/>
<circle cx="923.7" cy="466.5" r="3.3" fill="#1b1b1b"/>
<circle cx="931.6" cy="466.5" r="3.3" fill="#1b1b1b"/>
<polyline points="907.7,479.6 915.1,479.6 923.1,477.5 931.0,477.5" fill="none" stroke="#1b1b1b" stroke-width="1.6"/>
<circle cx="907.7" cy="479.6" r="3.3" fill="#1b1b1b"/>
<circle cx="915.1" cy="479.6" r="3.3" fill="#1b1b1b"/>
<circle cx="923.1" cy="477.5" r="3.3" fill="#1b1b1b"/>
<circle cx="931.0" cy="477.5" r="3.3" fill="#1b1b1b"/>
<polyline points="907.1,490.6 914.5,490.6 922.5,488.5 930.4,488.5" fill="none" stroke="#1b1b1b" stroke-width="1.6"/>
<circle cx="907.1" cy="490.6" r="3.3" fill="#1b1b1b"/>
<circle cx="914.5" cy="490.6" r="3.3" fill="#1b1b1b"/>
<circle cx="922.5" cy="488.5" r="3.3" fill="#1b1b1b"/>
<circle cx="930.4" cy="488.5" r="3.3" fill="#1b1b1b"/>
<polyline points="906.5,501.6 913.9,501.6 921.9,499.5 929.8,499.5" fill="none" stroke="#1b1b1b" stroke-width="1.6"/>
<circle cx="906.5" cy="501.6" r="3.3" fill="#1b1b1b"/>
<circle cx="913.9" cy="501.6" r="3.3" fill="#1b1b1b"/>
<circle cx="921.9" cy="499.5" r="3.3" fill="#1b1b1b"/>
<circle cx="929.8" cy="499.5" r="3.3" fill="#1b1b1b"/>
<circle cx="985.9" cy="471.9" r="18.4" fill="#E9F1F9" stroke="#1b1b1b" stroke-width="2.8"/>
<circle cx="999.2" cy="474.6" r="2.9" fill="#1b1b1b"/>
<circle cx="995.7" cy="481.4" r="2.9" fill="#1b1b1b"/>
<circle cx="989.0" cy="485.1" r="2.9" fill="#1b1b1b"/>
<circle cx="981.3" cy="484.7" r="2.9" fill="#1b1b1b"/>
<circle cx="975.1" cy="480.2" r="2.9" fill="#1b1b1b"/>
<circle cx="972.3" cy="473.1" r="2.9" fill="#1b1b1b"/>
<circle cx="973.9" cy="465.6" r="2.9" fill="#1b1b1b"/>
<circle cx="979.2" cy="460.1" r="2.9" fill="#1b1b1b"/>
<circle cx="986.7" cy="458.3" r="2.9" fill="#1b1b1b"/>
<circle cx="993.9" cy="460.9" r="2.9" fill="#1b1b1b"/>
<circle cx="998.6" cy="467.0" r="2.9" fill="#1b1b1b"/>
<defs><filter id="bl" x="-50%" y="-50%" width="200%" height="200%"><feGaussianBlur stdDeviation="0.5"/></filter></defs>
<g filter="url(#bl)" opacity="0.3"><line x1="153.1" y1="154.7" x2="142.4" y2="115.4" stroke="#A0B096" stroke-width="0.7"/><line x1="153.7" y1="154.6" x2="144.6" y2="115.0" stroke="#A0B096" stroke-width="0.7"/><line x1="154.4" y1="154.5" x2="146.8" y2="114.6" stroke="#A0B096" stroke-width="0.7"/><line x1="155.0" y1="154.3" x2="148.9" y2="114.3" stroke="#A0B096" stroke-width="0.7"/><line x1="155.7" y1="154.2" x2="151.1" y2="113.9" stroke="#A0B096" stroke-width="0.7"/><line x1="156.3" y1="154.1" x2="153.3" y2="113.5" stroke="#A0B096" stroke-width="0.7"/></g>
<g filter="url(#bl)" opacity="0.3"><line x1="173.8" y1="151.9" x2="170.0" y2="111.3" stroke="#A0B096" stroke-width="0.7"/><line x1="174.5" y1="151.9" x2="172.2" y2="111.3" stroke="#A0B096" stroke-width="0.7"/><line x1="175.2" y1="151.9" x2="174.4" y2="111.3" stroke="#A0B096" stroke-width="0.7"/><line x1="175.8" y1="151.9" x2="176.6" y2="111.3" stroke="#A0B096" stroke-width="0.7"/><line x1="176.5" y1="151.9" x2="178.8" y2="111.3" stroke="#A0B096" stroke-width="0.7"/><line x1="177.2" y1="151.9" x2="181.0" y2="111.3" stroke="#A0B096" stroke-width="0.7"/></g>
<g filter="url(#bl)" opacity="0.3"><line x1="196.6" y1="154.4" x2="199.1" y2="114.1" stroke="#A0B096" stroke-width="0.7"/><line x1="197.3" y1="154.5" x2="201.3" y2="114.5" stroke="#A0B096" stroke-width="0.7"/><line x1="197.9" y1="154.6" x2="203.5" y2="114.8" stroke="#A0B096" stroke-width="0.7"/><line x1="198.6" y1="154.8" x2="205.7" y2="115.2" stroke="#A0B096" stroke-width="0.7"/><line x1="199.2" y1="154.9" x2="207.8" y2="115.5" stroke="#A0B096" stroke-width="0.7"/><line x1="199.9" y1="155.0" x2="210.0" y2="115.9" stroke="#A0B096" stroke-width="0.7"/></g>
<polyline points="156.8,170.6 157.2,173.4 157.7,177.1 158.3,181.5 159.0,186.4 159.8,191.7 160.7,197.3 161.6,203.0 162.5,208.7 163.6,214.7 164.8,221.4 166.2,228.5 167.6,235.7 168.9,242.7 170.2,249.4 171.3,255.5 172.2,260.7 172.9,265.1 173.4,269.0 173.8,272.4 174.1,275.3 174.3,277.9 174.4,280.1 174.6,281.9 174.7,283.5" fill="none" stroke="#6AAA4C" stroke-width="1.6" stroke-linecap="round" stroke-linejoin="round" opacity="1"/>
<polyline points="175.5,168.1 175.4,172.5 175.3,178.3 175.2,185.2 175.1,192.9 175.0,201.0 174.9,209.3 174.8,217.4 174.7,225.0 174.7,232.6 174.6,240.9 174.6,249.4 174.6,257.8 174.7,265.8 174.7,273.0 174.7,279.0 174.7,283.5" fill="none" stroke="#6AAA4C" stroke-width="1.6" stroke-linecap="round" stroke-linejoin="round" opacity="1"/>
<polyline points="195.8,171.4 195.4,173.2 194.9,175.4 194.3,178.0 193.6,181.0 192.8,184.5 191.9,188.3 191.0,192.7 190.1,197.4 189.1,202.9 187.9,209.4 186.6,216.4 185.2,223.8 183.9,231.2 182.6,238.4 181.4,245.1 180.4,251.0 179.5,256.3 178.6,261.4 177.7,266.2 176.9,270.6 176.2,274.6 175.6,278.2 175.1,281.1 174.7,283.5" fill="none" stroke="#6AAA4C" stroke-width="1.6" stroke-linecap="round" stroke-linejoin="round" opacity="1"/>
<polygon points="173.9,269.7 173.4,267.5 172.6,264.5 171.7,260.9 170.7,256.9 169.7,252.6 168.5,248.2 167.4,243.8 166.3,239.6 165.2,235.4 164.0,231.0 162.8,226.5 161.5,221.9 160.2,217.3 158.8,212.8 157.3,208.6 155.6,204.7 153.7,201.0 151.5,197.4 149.1,193.9 146.6,190.6 144.3,187.6 142.1,185.0 140.3,182.7 139.0,181.0 139.0,181.0 140.2,182.8 141.9,185.1 143.9,187.9 146.1,191.0 148.4,194.4 150.6,197.9 152.6,201.6 154.4,205.3 155.8,209.2 157.1,213.4 158.3,217.8 159.5,222.4 160.5,227.0 161.5,231.6 162.6,236.1 163.7,240.4 164.9,244.5 166.1,248.9 167.3,253.2 168.5,257.5 169.6,261.4 170.6,265.0 171.4,268.0 172.1,270.3" fill="#6AAA4C" opacity="1"/>
<polygon points="175.0,274.7 174.5,272.7 173.7,270.1 172.9,266.9 172.0,263.5 170.9,259.8 169.8,256.1 168.6,252.6 167.3,249.4 166.0,246.6 164.5,243.7 163.0,240.9 161.4,238.2 159.8,235.5 158.1,233.0 156.4,230.7 154.5,228.5 152.5,226.5 150.2,224.7 147.8,223.0 145.4,221.4 143.1,220.0 141.0,218.8 139.3,217.8 138.0,217.0 138.0,217.0 139.2,217.9 140.9,219.1 142.9,220.4 145.1,222.0 147.3,223.7 149.6,225.5 151.7,227.4 153.5,229.5 155.1,231.6 156.6,234.0 158.1,236.5 159.6,239.2 160.9,242.0 162.2,244.8 163.5,247.7 164.7,250.6 165.9,253.6 167.1,257.0 168.4,260.6 169.5,264.2 170.6,267.6 171.6,270.7 172.4,273.3 173.0,275.3" fill="#4A8A3A" opacity="1"/>
<polygon points="174.9,277.5 174.2,276.0 173.3,273.8 172.2,271.2 170.9,268.3 169.6,265.3 168.2,262.4 166.7,259.6 165.2,257.3 163.6,255.2 162.1,253.2 160.5,251.3 158.9,249.5 157.2,247.8 155.6,246.2 154.0,244.8 152.4,243.5 150.7,242.4 148.9,241.4 147.1,240.6 145.4,239.9 143.7,239.3 142.2,238.8 140.9,238.4 140.0,238.0 140.0,238.0 140.9,238.5 142.1,239.0 143.5,239.7 145.1,240.4 146.8,241.2 148.5,242.2 150.1,243.3 151.6,244.5 153.0,245.9 154.5,247.4 155.9,249.0 157.4,250.8 158.8,252.6 160.2,254.6 161.6,256.6 162.8,258.7 164.1,261.1 165.6,263.7 167.1,266.5 168.6,269.4 170.0,272.2 171.2,274.7 172.3,276.9 173.1,278.5" fill="#8CC063" opacity="1"/>
<polygon points="172.8,261.5 171.9,259.9 170.7,257.6 169.2,254.9 167.6,252.0 165.9,248.9 164.0,246.1 162.3,243.6 160.7,241.5 159.3,239.8 157.9,238.3 156.6,237.0 155.4,235.8 154.2,234.8 153.1,234.0 152.0,233.3 151.1,232.8 150.3,232.4 149.5,232.4 148.9,232.5 148.4,232.8 147.9,233.2 147.6,233.5 147.3,233.8 147.0,234.0 147.0,234.0 147.3,233.9 147.6,233.6 148.0,233.3 148.5,233.0 149.0,232.8 149.6,232.8 150.2,232.9 150.9,233.2 151.7,233.8 152.6,234.6 153.6,235.5 154.6,236.6 155.7,237.8 156.9,239.2 158.1,240.8 159.3,242.5 160.6,244.7 162.1,247.3 163.7,250.2 165.5,253.2 167.3,256.0 168.9,258.7 170.2,260.9 171.2,262.5" fill="#8CC063" opacity="1"/>
<polygon points="171.6,235.5 170.6,234.2 169.3,232.5 167.7,230.5 165.9,228.3 164.0,226.0 162.0,223.9 160.2,222.1 158.5,220.5 157.1,219.2 155.6,217.9 154.2,216.8 152.9,215.8 151.7,214.9 150.6,214.2 149.7,213.5 149.0,213.0 149.0,213.0 149.6,213.6 150.4,214.4 151.4,215.3 152.5,216.3 153.7,217.5 154.9,218.7 156.2,220.1 157.5,221.5 158.9,223.2 160.5,225.3 162.3,227.5 164.2,229.7 166.1,231.8 167.8,233.8 169.3,235.4 170.4,236.5" fill="#4A8A3A" opacity="1"/>
<polygon points="177.0,275.4 177.8,273.4 178.8,270.7 180.0,267.5 181.4,264.0 182.8,260.3 184.3,256.8 185.8,253.5 187.1,250.6 188.6,248.1 190.2,245.7 191.8,243.4 193.6,241.2 195.3,239.2 197.1,237.4 198.7,235.8 200.3,234.4 201.8,233.4 203.3,232.6 204.9,232.1 206.4,231.7 207.8,231.5 209.1,231.3 210.2,231.2 211.0,231.0 211.0,231.0 210.2,231.1 209.1,231.1 207.8,231.2 206.3,231.3 204.8,231.5 203.1,231.9 201.4,232.6 199.7,233.6 198.0,234.9 196.2,236.4 194.2,238.1 192.3,240.0 190.3,242.2 188.4,244.4 186.6,246.8 184.9,249.4 183.2,252.3 181.6,255.6 180.2,259.3 178.9,263.0 177.7,266.6 176.6,269.9 175.7,272.6 175.0,274.6" fill="#8CC063" opacity="1"/>
<polygon points="176.8,262.4 177.7,260.6 178.8,258.2 180.1,255.3 181.5,252.2 183.1,248.9 184.4,245.7 185.7,242.8 186.8,240.5 187.9,238.5 189.0,236.7 190.1,235.1 191.2,233.6 192.3,232.3 193.4,231.2 194.3,230.1 195.2,229.2 196.0,228.5 196.7,228.0 197.4,227.6 198.1,227.4 198.7,227.3 199.2,227.2 199.6,227.1 200.0,227.0 200.0,227.0 199.6,227.1 199.2,227.1 198.7,227.1 198.0,227.2 197.3,227.4 196.6,227.6 195.7,228.1 194.8,228.8 193.8,229.6 192.8,230.6 191.6,231.6 190.4,232.9 189.1,234.3 187.8,235.8 186.5,237.6 185.2,239.5 183.8,241.9 182.3,244.7 180.7,247.9 179.3,251.2 178.0,254.4 176.9,257.4 175.9,259.8 175.2,261.6" fill="#8CC063" opacity="1"/>
<polygon points="172.9,236.4 173.5,234.9 174.2,232.9 175.1,230.6 176.1,228.1 177.2,225.5 178.4,223.0 179.7,220.8 181.1,218.9 182.6,217.1 184.3,215.2 186.2,213.4 188.2,211.8 190.3,210.3 192.3,209.1 194.3,208.2 196.1,207.7 197.8,207.7 199.8,208.1 201.8,209.0 203.8,210.1 205.7,211.3 207.4,212.4 208.9,213.4 210.0,214.0 210.0,214.0 209.0,213.3 207.6,212.2 206.0,210.9 204.2,209.5 202.2,208.2 200.2,207.2 198.0,206.5 195.9,206.3 193.8,206.8 191.6,207.6 189.3,208.7 187.0,210.1 184.8,211.7 182.7,213.5 180.7,215.3 178.9,217.1 177.4,219.3 176.1,221.8 174.9,224.5 173.9,227.3 173.0,229.9 172.3,232.3 171.6,234.2 171.1,235.6" fill="#6AAA4C" opacity="1"/>
<polygon points="178.7,222.4 179.7,220.9 180.9,218.8 182.4,216.3 184.1,213.5 185.8,210.6 187.6,207.8 189.4,205.1 191.0,202.7 192.5,200.5 194.0,198.4 195.7,196.3 197.3,194.3 198.9,192.4 200.5,190.4 202.0,188.4 203.5,186.4 204.9,184.2 206.3,181.9 207.7,179.5 209.1,177.1 210.3,174.9 211.4,172.9 212.3,171.3 213.0,170.0 213.0,170.0 212.2,171.2 211.2,172.8 209.9,174.7 208.6,176.9 207.1,179.1 205.6,181.4 204.0,183.6 202.5,185.6 201.0,187.6 199.4,189.4 197.7,191.3 196.0,193.2 194.2,195.1 192.5,197.1 190.7,199.1 189.0,201.3 187.4,203.8 185.7,206.6 184.0,209.5 182.3,212.5 180.7,215.3 179.3,217.9 178.2,220.0 177.3,221.6" fill="#4A8A3A" opacity="1"/>
<polygon points="163.8,200.2 164.2,198.7 164.6,196.8 165.2,194.5 165.8,192.0 166.4,189.4 166.9,186.7 167.3,184.3 167.8,182.2 168.3,180.4 168.8,178.5 169.5,176.7 170.1,175.0 170.7,173.5 171.2,172.1 171.7,170.9 172.0,170.0 172.0,170.0 171.5,170.9 170.9,171.9 170.2,173.2 169.4,174.7 168.6,176.4 167.8,178.1 167.0,179.9 166.2,181.8 165.5,183.9 164.8,186.3 164.1,188.8 163.6,191.5 163.2,194.1 162.8,196.4 162.4,198.4 162.2,199.8" fill="#4A8A3A" opacity="1"/>
<polygon points="179.8,196.3 180.3,195.1 180.9,193.6 181.7,191.7 182.6,189.7 183.5,187.6 184.3,185.4 185.1,183.3 185.8,181.4 186.6,179.5 187.4,177.6 188.3,175.7 189.2,173.8 190.1,172.0 190.9,170.4 191.5,169.0 192.0,168.0 192.0,168.0 191.4,168.9 190.6,170.2 189.6,171.7 188.5,173.4 187.4,175.1 186.2,177.0 185.2,178.8 184.2,180.6 183.2,182.5 182.2,184.5 181.3,186.7 180.6,188.9 179.8,191.0 179.2,192.9 178.6,194.5 178.2,195.7" fill="#4A8A3A" opacity="1"/>
<polygon points="169.4,214.6 170.2,215.4 171.3,216.5 172.6,217.8 174.0,219.3 175.5,220.8 176.8,222.2 178.1,223.5 179.2,224.6 180.0,225.6 180.7,226.6 181.2,227.5 181.7,228.4 182.2,229.4 182.6,230.3 183.0,231.2 183.5,232.2 184.0,233.2 184.5,234.3 185.0,235.5 185.5,236.6 186.0,237.6 186.4,238.6 186.7,239.4 187.0,240.0 187.0,240.0 186.8,239.4 186.6,238.5 186.3,237.5 186.0,236.4 185.6,235.2 185.3,234.0 184.9,232.9 184.5,231.8 184.1,230.8 183.8,229.8 183.5,228.8 183.1,227.8 182.7,226.8 182.2,225.7 181.6,224.6 180.8,223.4 179.8,222.0 178.5,220.6 177.0,219.2 175.5,217.7 174.0,216.4 172.6,215.2 171.4,214.2 170.6,213.4" fill="#4A8A3A" opacity="1"/>
<polygon points="176.8,267.9 176.6,265.7 176.3,262.9 176.0,259.4 175.7,255.6 175.2,251.6 174.7,247.5 173.9,243.5 172.9,239.8 171.8,236.1 170.4,232.1 168.8,228.1 167.2,224.1 165.6,220.3 164.1,217.0 162.9,214.1 162.0,212.0 162.0,212.0 162.7,214.2 163.7,217.1 165.0,220.6 166.3,224.4 167.7,228.5 169.0,232.6 170.1,236.6 171.1,240.2 171.8,243.9 172.3,247.8 173.0,251.9 173.6,255.9 174.1,259.7 174.5,263.1 174.9,265.9 175.2,268.1" fill="#8CC063" opacity="1"/>
<polygon points="176.7,255.2 177.3,253.4 178.1,251.0 179.0,248.1 180.0,244.8 181.1,241.5 182.0,238.2 182.9,235.0 183.7,232.3 184.5,229.7 185.4,227.1 186.4,224.6 187.3,222.2 188.1,220.0 188.9,218.0 189.5,216.3 190.0,215.0 190.0,215.0 189.4,216.2 188.6,217.9 187.7,219.8 186.6,221.9 185.5,224.3 184.4,226.7 183.3,229.2 182.3,231.7 181.2,234.5 180.1,237.6 179.0,240.9 178.1,244.3 177.2,247.5 176.4,250.5 175.8,253.0 175.3,254.8" fill="#6AAA4C" opacity="1"/>
<ellipse cx="154.7" cy="154.4" rx="3.4" ry="16.5" fill="#84B05C" transform="rotate(170.3 154.7 154.4)"/>
<circle cx="151.1" cy="141.6" r="1.4" fill="#72A04C"/>
<circle cx="154.4" cy="144.4" r="1.4" fill="#72A04C"/>
<circle cx="152.2" cy="148.1" r="1.4" fill="#72A04C"/>
<circle cx="155.5" cy="150.9" r="1.4" fill="#72A04C"/>
<circle cx="153.4" cy="154.6" r="1.4" fill="#72A04C"/>
<circle cx="156.6" cy="157.4" r="1.4" fill="#72A04C"/>
<circle cx="154.5" cy="161.2" r="1.4" fill="#72A04C"/>
<circle cx="157.7" cy="163.9" r="1.4" fill="#72A04C"/>
<circle cx="155.6" cy="167.7" r="1.4" fill="#72A04C"/>
<ellipse cx="175.5" cy="151.9" rx="3.4" ry="16.6" fill="#84B05C" transform="rotate(180.0 175.5 151.9)"/>
<circle cx="174.1" cy="138.6" r="1.4" fill="#72A04C"/>
<circle cx="176.9" cy="141.9" r="1.4" fill="#72A04C"/>
<circle cx="174.1" cy="145.3" r="1.4" fill="#72A04C"/>
<circle cx="176.9" cy="148.6" r="1.4" fill="#72A04C"/>
<circle cx="174.1" cy="151.9" r="1.4" fill="#72A04C"/>
<circle cx="176.9" cy="155.2" r="1.4" fill="#72A04C"/>
<circle cx="174.1" cy="158.5" r="1.4" fill="#72A04C"/>
<circle cx="176.9" cy="161.9" r="1.4" fill="#72A04C"/>
<circle cx="174.1" cy="165.2" r="1.4" fill="#72A04C"/>
<ellipse cx="198.2" cy="154.7" rx="3.4" ry="16.2" fill="#84B05C" transform="rotate(-170.9 198.2 154.7)"/>
<circle cx="198.9" cy="141.7" r="1.4" fill="#72A04C"/>
<circle cx="201.1" cy="145.3" r="1.4" fill="#72A04C"/>
<circle cx="197.9" cy="148.1" r="1.4" fill="#72A04C"/>
<circle cx="200.1" cy="151.7" r="1.4" fill="#72A04C"/>
<circle cx="196.9" cy="154.5" r="1.4" fill="#72A04C"/>
<circle cx="199.1" cy="158.1" r="1.4" fill="#72A04C"/>
<circle cx="195.9" cy="160.9" r="1.4" fill="#72A04C"/>
<circle cx="198.1" cy="164.5" r="1.4" fill="#72A04C"/>
<circle cx="194.9" cy="167.3" r="1.4" fill="#72A04C"/>
<g filter="url(#bl)" opacity="0.35"><line x1="344.1" y1="185.0" x2="329.3" y2="153.5" stroke="#D8C898" stroke-width="0.7"/><line x1="344.8" y1="184.7" x2="331.7" y2="152.7" stroke="#D8C898" stroke-width="0.7"/><line x1="345.5" y1="184.5" x2="334.0" y2="151.8" stroke="#D8C898" stroke-width="0.7"/><line x1="346.2" y1="184.3" x2="336.4" y2="151.0" stroke="#D8C898" stroke-width="0.7"/><line x1="346.9" y1="184.0" x2="338.7" y2="150.2" stroke="#D8C898" stroke-width="0.7"/></g>
<g filter="url(#bl)" opacity="0.35"><line x1="350.0" y1="170.9" x2="337.4" y2="135.7" stroke="#D8C898" stroke-width="0.7"/><line x1="350.8" y1="170.7" x2="339.9" y2="135.1" stroke="#D8C898" stroke-width="0.7"/><line x1="351.5" y1="170.5" x2="342.3" y2="134.5" stroke="#D8C898" stroke-width="0.7"/><line x1="352.2" y1="170.3" x2="344.7" y2="133.8" stroke="#D8C898" stroke-width="0.7"/><line x1="353.0" y1="170.1" x2="347.1" y2="133.2" stroke="#D8C898" stroke-width="0.7"/></g>
<g filter="url(#bl)" opacity="0.35"><line x1="360.5" y1="180.6" x2="355.2" y2="146.3" stroke="#D8C898" stroke-width="0.7"/><line x1="361.3" y1="180.5" x2="357.7" y2="146.1" stroke="#D8C898" stroke-width="0.7"/><line x1="362.0" y1="180.5" x2="360.2" y2="146.0" stroke="#D8C898" stroke-width="0.7"/><line x1="362.7" y1="180.5" x2="362.7" y2="145.9" stroke="#D8C898" stroke-width="0.7"/><line x1="363.5" y1="180.4" x2="365.2" y2="145.8" stroke="#D8C898" stroke-width="0.7"/></g>
<g filter="url(#bl)" opacity="0.35"><line x1="368.5" y1="175.5" x2="365.0" y2="141.0" stroke="#D8C898" stroke-width="0.7"/><line x1="369.2" y1="175.5" x2="367.5" y2="141.0" stroke="#D8C898" stroke-width="0.7"/><line x1="370.0" y1="175.5" x2="370.0" y2="141.0" stroke="#D8C898" stroke-width="0.7"/><line x1="370.8" y1="175.5" x2="372.5" y2="141.0" stroke="#D8C898" stroke-width="0.7"/><line x1="371.5" y1="175.5" x2="375.0" y2="141.0" stroke="#D8C898" stroke-width="0.7"/></g>
<g filter="url(#bl)" opacity="0.35"><line x1="375.0" y1="182.5" x2="370.6" y2="150.1" stroke="#D8C898" stroke-width="0.7"/><line x1="375.8" y1="182.5" x2="373.1" y2="150.1" stroke="#D8C898" stroke-width="0.7"/><line x1="376.5" y1="182.5" x2="375.6" y2="150.0" stroke="#D8C898" stroke-width="0.7"/><line x1="377.2" y1="182.5" x2="378.1" y2="149.9" stroke="#D8C898" stroke-width="0.7"/><line x1="378.0" y1="182.5" x2="380.6" y2="149.9" stroke="#D8C898" stroke-width="0.7"/></g>
<g filter="url(#bl)" opacity="0.35"><line x1="384.0" y1="168.8" x2="385.0" y2="134.5" stroke="#D8C898" stroke-width="0.7"/><line x1="384.8" y1="168.9" x2="387.5" y2="134.8" stroke="#D8C898" stroke-width="0.7"/><line x1="385.5" y1="169.0" x2="390.0" y2="135.1" stroke="#D8C898" stroke-width="0.7"/><line x1="386.2" y1="169.1" x2="392.4" y2="135.5" stroke="#D8C898" stroke-width="0.7"/><line x1="387.0" y1="169.2" x2="394.9" y2="135.8" stroke="#D8C898" stroke-width="0.7"/></g>
<g filter="url(#bl)" opacity="0.35"><line x1="393.6" y1="177.1" x2="400.0" y2="139.2" stroke="#D8C898" stroke-width="0.7"/><line x1="394.3" y1="177.3" x2="402.4" y2="139.9" stroke="#D8C898" stroke-width="0.7"/><line x1="395.0" y1="177.5" x2="404.9" y2="140.5" stroke="#D8C898" stroke-width="0.7"/><line x1="395.7" y1="177.7" x2="407.3" y2="141.2" stroke="#D8C898" stroke-width="0.7"/><line x1="396.4" y1="177.9" x2="409.7" y2="141.8" stroke="#D8C898" stroke-width="0.7"/></g>
<polyline points="352.0,203.0 352.6,205.9 353.4,209.7 354.3,214.3 355.4,219.4 356.5,224.7 357.7,230.2 359.0,235.5 360.3,240.4 361.7,245.3 363.4,250.6 365.2,256.1 367.0,261.4 368.8,266.5 370.4,271.1 371.7,274.9 372.7,277.8" fill="none" stroke="#7A9444" stroke-width="1.3" stroke-linecap="round" stroke-linejoin="round" opacity="1"/>
<polyline points="357.0,192.0 357.5,195.3 358.1,199.7 358.8,204.9 359.6,210.8 360.4,216.9 361.3,223.2 362.3,229.2 363.3,234.9 364.4,240.6 365.6,246.6 367.0,252.9 368.4,259.0 369.7,264.9 370.9,270.1 372.0,274.5 372.7,277.8" fill="none" stroke="#7A9444" stroke-width="1.3" stroke-linecap="round" stroke-linejoin="round" opacity="1"/>
<polyline points="363.0,200.0 363.3,203.0 363.7,207.0 364.1,211.7 364.6,217.0 365.1,222.6 365.7,228.3 366.3,233.8 366.9,238.9 367.6,244.0 368.3,249.5 369.2,255.2 370.0,260.8 370.9,266.1 371.6,270.8 372.2,274.8 372.7,277.8" fill="none" stroke="#7A9444" stroke-width="1.3" stroke-linecap="round" stroke-linejoin="round" opacity="1"/>
<polyline points="370.0,195.0 370.1,198.2 370.2,202.4 370.3,207.5 370.4,213.1 370.6,219.1 370.7,225.1 370.9,230.9 371.1,236.4 371.3,241.9 371.5,247.7 371.7,253.7 372.0,259.7 372.2,265.3 372.4,270.4 372.6,274.6 372.7,277.8" fill="none" stroke="#7A9444" stroke-width="1.3" stroke-linecap="round" stroke-linejoin="round" opacity="1"/>
<polyline points="377.0,200.0 376.9,203.0 376.7,207.0 376.5,211.7 376.3,217.0 376.1,222.6 375.8,228.3 375.5,233.8 375.3,238.9 375.0,244.0 374.6,249.5 374.3,255.2 373.9,260.8 373.5,266.1 373.2,270.8 372.9,274.8 372.7,277.8" fill="none" stroke="#7A9444" stroke-width="1.3" stroke-linecap="round" stroke-linejoin="round" opacity="1"/>
<polyline points="383.0,188.0 382.7,191.5 382.3,196.1 381.8,201.5 381.3,207.6 380.8,214.1 380.2,220.6 379.5,227.0 378.9,232.9 378.2,238.8 377.3,245.2 376.4,251.7 375.5,258.2 374.7,264.3 373.9,269.7 373.2,274.3 372.7,277.8" fill="none" stroke="#7A9444" stroke-width="1.3" stroke-linecap="round" stroke-linejoin="round" opacity="1"/>
<polyline points="389.0,200.0 388.5,203.0 387.9,207.0 387.2,211.7 386.4,217.0 385.5,222.6 384.5,228.3 383.5,233.8 382.5,238.9 381.3,244.0 380.0,249.5 378.6,255.2 377.2,260.8 375.8,266.1 374.5,270.8 373.5,274.8 372.7,277.8" fill="none" stroke="#7A9444" stroke-width="1.3" stroke-linecap="round" stroke-linejoin="round" opacity="1"/>
<polygon points="360.1,237.2 359.7,234.8 359.3,231.2 358.7,226.9 358.1,222.2 357.1,217.7 356.2,213.7 355.2,210.6 354.3,208.6 352.8,207.9 351.6,209.0 350.8,210.8 350.0,213.0 349.3,215.4 348.7,217.7 348.2,219.6 347.8,220.8 347.8,220.8 348.3,219.6 349.1,217.8 349.9,215.6 350.8,213.3 351.8,211.2 352.7,209.8 353.1,209.3 353.1,209.4 353.6,211.1 354.2,214.2 354.8,218.2 355.3,222.7 356.1,227.3 356.8,231.5 357.4,235.1 357.9,237.6" fill="#7A9444" opacity="1"/>
<polygon points="362.7,234.1 361.8,233.4 360.7,232.5 359.3,231.4 357.8,230.2 356.1,228.9 354.4,227.6 352.5,226.6 350.7,225.8 348.8,225.1 346.8,224.4 344.6,223.9 342.5,223.4 340.4,222.9 338.6,222.5 337.1,222.2 335.9,222.0 335.9,222.0 337.0,222.5 338.5,223.0 340.2,223.7 342.2,224.4 344.2,225.2 346.2,226.1 348.1,226.9 349.7,227.8 351.2,228.8 352.8,230.0 354.5,231.1 356.2,232.2 357.8,233.4 359.2,234.4 360.4,235.3 361.3,235.9" fill="#9CB05C" opacity="1"/>
<polygon points="366.4,255.6 365.5,254.6 364.3,253.2 362.9,251.6 361.4,249.8 359.7,247.8 357.9,246.0 356.1,244.2 354.5,242.7 352.8,241.1 351.0,239.5 349.2,237.9 347.4,236.3 345.7,234.8 344.2,233.5 342.9,232.3 341.9,231.5 341.9,231.5 342.7,232.5 343.9,233.8 345.2,235.3 346.7,237.0 348.3,238.8 349.9,240.6 351.5,242.4 352.9,244.1 354.4,245.9 356.0,247.8 357.7,249.7 359.4,251.5 361.1,253.3 362.6,254.8 363.8,256.2 364.8,257.2" fill="#7A9444" opacity="1"/>
<polygon points="375.8,218.1 376.8,217.3 378.1,216.1 379.7,214.7 381.4,213.3 383.1,211.9 384.7,210.8 385.9,210.1 386.6,210.0 387.3,210.4 388.2,211.5 389.2,213.2 390.1,215.2 391.0,217.3 391.7,219.2 392.4,220.9 392.9,222.0 392.9,222.0 392.6,220.8 392.2,219.1 391.7,217.0 391.2,214.8 390.5,212.6 389.7,210.6 388.6,209.0 387.2,208.0 385.3,208.0 383.5,208.7 381.6,209.9 379.8,211.4 378.1,213.0 376.6,214.5 375.3,215.7 374.4,216.5" fill="#7A9444" opacity="1"/>
<polygon points="379.4,221.5 380.8,219.8 382.9,217.5 385.3,214.7 387.7,211.4 390.0,208.1 392.2,205.1 394.0,202.5 395.2,200.7 395.2,200.7 393.6,202.3 391.5,204.5 388.9,207.2 386.1,210.1 383.3,213.0 381.1,216.0 379.1,218.4 377.8,220.1" fill="#9CB05C" opacity="1"/>
<polygon points="380.8,240.3 381.5,239.1 382.4,237.2 383.5,235.0 384.7,232.7 386.0,230.6 387.1,229.0 387.8,228.1 387.6,227.9 388.0,228.4 388.9,230.1 389.9,232.7 390.9,235.7 391.8,238.8 392.7,241.7 393.4,244.1 394.0,245.8 394.0,245.8 393.7,244.1 393.3,241.6 392.8,238.5 392.2,235.3 391.6,232.2 390.8,229.4 390.0,227.2 388.6,225.7 386.4,225.9 384.9,227.3 383.6,229.2 382.4,231.5 381.3,233.9 380.3,236.2 379.4,238.1 378.8,239.3" fill="#7A9444" opacity="1"/>
<polygon points="377.0,257.0 377.5,256.6 378.1,255.9 378.8,255.2 379.6,254.3 380.4,253.5 381.2,252.7 382.0,252.0 382.7,251.3 383.5,250.8 384.5,250.3 385.7,249.8 386.8,249.4 388.0,249.0 389.0,248.7 389.9,248.4 390.5,248.1 390.5,248.1 389.8,248.2 388.9,248.2 387.8,248.3 386.6,248.5 385.3,248.7 384.1,248.9 382.8,249.2 381.7,249.7 380.7,250.3 379.6,251.0 378.7,251.9 377.9,252.9 377.2,253.8 376.5,254.6 376.0,255.3 375.6,255.8" fill="#9CB05C" opacity="1"/>
<polygon points="370.3,270.8 369.5,270.8 368.4,270.7 367.0,270.6 365.6,270.9 364.1,271.1 362.7,271.4 361.6,271.6 360.8,271.8 360.8,271.8 361.6,272.0 362.7,272.2 364.1,272.5 365.6,272.7 367.0,273.0 368.4,272.9 369.5,272.8 370.3,272.8" fill="#7A9444" opacity="1"/>
<polygon points="375.3,275.1 376.3,275.0 377.7,274.8 379.4,274.5 381.2,273.9 383.0,273.3 384.6,272.7 385.9,272.2 386.9,271.8 386.9,271.8 385.9,271.8 384.4,271.9 382.7,272.0 380.8,272.1 378.9,272.2 377.3,272.6 375.9,273.0 374.9,273.3" fill="#7A9444" opacity="1"/>
<polygon points="368.9,267.6 368.3,266.2 367.6,264.2 366.7,261.9 365.7,259.3 364.6,256.6 363.3,254.0 362.0,251.6 360.7,249.6 359.4,247.7 357.9,245.9 356.3,244.2 354.8,242.6 353.3,241.2 352.0,239.9 350.8,238.8 350.0,238.0 350.0,238.0 350.7,238.9 351.7,240.1 352.9,241.5 354.2,243.1 355.6,244.9 356.9,246.7 358.2,248.6 359.3,250.4 360.3,252.5 361.3,255.0 362.4,257.6 363.6,260.2 364.7,262.7 365.7,265.0 366.5,266.9 367.1,268.4" fill="#9CB05C" opacity="1"/>
<ellipse cx="345.5" cy="184.5" rx="2.4" ry="19.6" fill="#E8BC46" transform="rotate(160.6 345.5 184.5)"/>
<circle cx="339.2" cy="169.4" r="1.0" fill="#D8A838"/>
<circle cx="342.1" cy="171.8" r="1.0" fill="#D8A838"/>
<circle cx="341.3" cy="175.6" r="1.0" fill="#D8A838"/>
<circle cx="344.2" cy="178.0" r="1.0" fill="#D8A838"/>
<circle cx="343.5" cy="181.7" r="1.0" fill="#D8A838"/>
<circle cx="346.4" cy="184.2" r="1.0" fill="#D8A838"/>
<circle cx="345.7" cy="187.9" r="1.0" fill="#D8A838"/>
<circle cx="348.6" cy="190.3" r="1.0" fill="#D8A838"/>
<circle cx="347.8" cy="194.1" r="1.0" fill="#D8A838"/>
<circle cx="350.7" cy="196.5" r="1.0" fill="#D8A838"/>
<circle cx="350.0" cy="200.2" r="1.0" fill="#D8A838"/>
<ellipse cx="351.5" cy="170.5" rx="2.4" ry="22.2" fill="#E8BC46" transform="rotate(165.7 351.5 170.5)"/>
<circle cx="345.9" cy="152.5" r="1.0" fill="#D8A838"/>
<circle cx="348.6" cy="155.4" r="1.0" fill="#D8A838"/>
<circle cx="347.6" cy="159.2" r="1.0" fill="#D8A838"/>
<circle cx="350.3" cy="162.0" r="1.0" fill="#D8A838"/>
<circle cx="349.3" cy="165.8" r="1.0" fill="#D8A838"/>
<circle cx="352.0" cy="168.6" r="1.0" fill="#D8A838"/>
<circle cx="351.0" cy="172.4" r="1.0" fill="#D8A838"/>
<circle cx="353.7" cy="175.2" r="1.0" fill="#D8A838"/>
<circle cx="352.7" cy="179.0" r="1.0" fill="#D8A838"/>
<circle cx="355.4" cy="181.8" r="1.0" fill="#D8A838"/>
<circle cx="354.4" cy="185.6" r="1.0" fill="#D8A838"/>
<circle cx="357.1" cy="188.5" r="1.0" fill="#D8A838"/>
<ellipse cx="362.0" cy="180.5" rx="2.4" ry="19.5" fill="#E8BC46" transform="rotate(177.1 362.0 180.5)"/>
<circle cx="360.2" cy="164.3" r="1.0" fill="#D8A838"/>
<circle cx="362.3" cy="167.5" r="1.0" fill="#D8A838"/>
<circle cx="360.5" cy="170.8" r="1.0" fill="#D8A838"/>
<circle cx="362.6" cy="174.0" r="1.0" fill="#D8A838"/>
<circle cx="360.9" cy="177.3" r="1.0" fill="#D8A838"/>
<circle cx="363.0" cy="180.5" r="1.0" fill="#D8A838"/>
<circle cx="361.2" cy="183.8" r="1.0" fill="#D8A838"/>
<circle cx="363.3" cy="187.0" r="1.0" fill="#D8A838"/>
<circle cx="361.5" cy="190.3" r="1.0" fill="#D8A838"/>
<circle cx="363.6" cy="193.5" r="1.0" fill="#D8A838"/>
<circle cx="361.9" cy="196.8" r="1.0" fill="#D8A838"/>
<ellipse cx="370.0" cy="175.5" rx="2.4" ry="19.5" fill="#E8BC46" transform="rotate(180.0 370.0 175.5)"/>
<circle cx="369.0" cy="159.2" r="1.0" fill="#D8A838"/>
<circle cx="371.0" cy="162.5" r="1.0" fill="#D8A838"/>
<circle cx="369.0" cy="165.8" r="1.0" fill="#D8A838"/>
<circle cx="371.0" cy="169.0" r="1.0" fill="#D8A838"/>
<circle cx="369.0" cy="172.2" r="1.0" fill="#D8A838"/>
<circle cx="371.0" cy="175.5" r="1.0" fill="#D8A838"/>
<circle cx="369.0" cy="178.8" r="1.0" fill="#D8A838"/>
<circle cx="371.0" cy="182.0" r="1.0" fill="#D8A838"/>
<circle cx="369.0" cy="185.2" r="1.0" fill="#D8A838"/>
<circle cx="371.0" cy="188.5" r="1.0" fill="#D8A838"/>
<circle cx="369.0" cy="191.8" r="1.0" fill="#D8A838"/>
<ellipse cx="376.5" cy="182.5" rx="2.4" ry="17.5" fill="#E8BC46" transform="rotate(178.4 376.5 182.5)"/>
<circle cx="375.1" cy="168.5" r="1.0" fill="#D8A838"/>
<circle cx="377.2" cy="172.0" r="1.0" fill="#D8A838"/>
<circle cx="375.3" cy="175.5" r="1.0" fill="#D8A838"/>
<circle cx="377.4" cy="179.0" r="1.0" fill="#D8A838"/>
<circle cx="375.5" cy="182.5" r="1.0" fill="#D8A838"/>
<circle cx="377.6" cy="186.0" r="1.0" fill="#D8A838"/>
<circle cx="375.7" cy="189.5" r="1.0" fill="#D8A838"/>
<circle cx="377.8" cy="193.0" r="1.0" fill="#D8A838"/>
<circle cx="375.9" cy="196.5" r="1.0" fill="#D8A838"/>
<ellipse cx="385.5" cy="169.0" rx="2.4" ry="19.2" fill="#E8BC46" transform="rotate(-172.5 385.5 169.0)"/>
<circle cx="386.6" cy="153.3" r="1.0" fill="#D8A838"/>
<circle cx="388.0" cy="157.0" r="1.0" fill="#D8A838"/>
<circle cx="385.7" cy="160.2" r="1.0" fill="#D8A838"/>
<circle cx="387.1" cy="163.9" r="1.0" fill="#D8A838"/>
<circle cx="384.8" cy="167.1" r="1.0" fill="#D8A838"/>
<circle cx="386.2" cy="170.9" r="1.0" fill="#D8A838"/>
<circle cx="383.9" cy="174.1" r="1.0" fill="#D8A838"/>
<circle cx="385.3" cy="177.8" r="1.0" fill="#D8A838"/>
<circle cx="383.0" cy="181.0" r="1.0" fill="#D8A838"/>
<circle cx="384.4" cy="184.7" r="1.0" fill="#D8A838"/>
<ellipse cx="395.0" cy="177.5" rx="2.4" ry="23.3" fill="#E8BC46" transform="rotate(-165.1 395.0 177.5)"/>
<circle cx="399.2" cy="158.0" r="1.0" fill="#D8A838"/>
<circle cx="400.2" cy="161.7" r="1.0" fill="#D8A838"/>
<circle cx="397.5" cy="164.4" r="1.0" fill="#D8A838"/>
<circle cx="398.5" cy="168.1" r="1.0" fill="#D8A838"/>
<circle cx="395.8" cy="170.8" r="1.0" fill="#D8A838"/>
<circle cx="396.8" cy="174.5" r="1.0" fill="#D8A838"/>
<circle cx="394.1" cy="177.3" r="1.0" fill="#D8A838"/>
<circle cx="395.1" cy="181.0" r="1.0" fill="#D8A838"/>
<circle cx="392.4" cy="183.7" r="1.0" fill="#D8A838"/>
<circle cx="393.4" cy="187.4" r="1.0" fill="#D8A838"/>
<circle cx="390.6" cy="190.1" r="1.0" fill="#D8A838"/>
<circle cx="391.6" cy="193.8" r="1.0" fill="#D8A838"/>
<circle cx="388.9" cy="196.5" r="1.0" fill="#D8A838"/>
<polyline points="562.4,273.2 561.9,269.8 561.3,265.3 560.6,260.0 559.7,254.1 558.8,247.8 557.9,241.5 556.9,235.5 556.0,230.0 555.0,224.6 553.8,219.0 552.6,213.2 551.4,207.7 550.2,202.4 549.1,197.7 548.2,193.7 547.5,190.7" fill="none" stroke="#55A44C" stroke-width="1.5" stroke-linecap="round" stroke-linejoin="round" opacity="1"/>
<polyline points="562.4,273.2 562.7,269.9 563.2,265.5 563.8,260.2 564.5,254.4 565.1,248.2 565.6,241.9 565.9,235.8 566.0,230.0 565.8,224.2 565.3,217.9 564.7,211.5 564.0,205.1 563.2,199.0 562.5,193.5 561.9,188.9 561.5,185.5" fill="none" stroke="#55A44C" stroke-width="1.5" stroke-linecap="round" stroke-linejoin="round" opacity="1"/>
<polyline points="562.4,273.2 563.3,269.9 564.6,265.5 566.2,260.3 567.9,254.5 569.6,248.3 571.3,242.0 572.8,235.8 574.0,230.0 575.0,224.0 575.8,217.6 576.6,210.8 577.2,204.2 577.8,197.8 578.3,192.1 578.7,187.3 579.0,183.7" fill="none" stroke="#55A44C" stroke-width="1.5" stroke-linecap="round" stroke-linejoin="round" opacity="1"/>
<polygon points="559.2,267.1 558.4,265.0 557.5,262.0 556.3,258.5 555.0,254.7 553.6,250.6 552.2,246.6 550.9,242.8 549.5,239.4 548.2,236.3 546.7,233.2 545.3,230.2 543.8,227.3 542.4,224.6 541.1,222.0 539.9,219.7 538.9,217.6 538.0,215.8 537.4,214.1 536.9,212.6 536.5,211.2 536.0,210.0 535.3,209.0 534.4,208.3 533.1,208.0 531.6,208.3 529.8,209.2 527.9,210.5 525.9,212.0 523.9,213.5 522.1,215.0 520.7,216.2 519.6,217.0 519.6,217.0 520.7,216.3 522.3,215.2 524.2,213.9 526.2,212.5 528.3,211.2 530.2,210.1 531.9,209.4 533.1,209.2 533.8,209.4 534.3,209.8 534.7,210.6 535.1,211.6 535.4,213.0 535.8,214.6 536.4,216.4 537.1,218.4 538.1,220.5 539.2,223.0 540.3,225.6 541.5,228.4 542.8,231.4 544.0,234.4 545.3,237.5 546.5,240.6 547.7,244.0 549.2,247.7 550.7,251.7 552.1,255.7 553.5,259.5 554.8,263.0 555.8,265.9 556.6,268.1" fill="#72B468" opacity="1"/>
<polygon points="566.4,234.4 565.3,232.9 563.8,231.0 561.9,228.6 559.9,226.0 557.7,223.3 555.4,220.5 553.1,217.8 550.7,215.3 548.3,212.8 545.6,210.1 542.7,207.3 539.8,204.6 537.1,202.0 534.6,199.6 532.5,197.7 530.9,196.2 530.9,196.2 532.3,197.8 534.3,199.9 536.6,202.5 539.1,205.2 541.8,208.2 544.5,211.2 547.0,214.0 549.3,216.7 551.4,219.3 553.6,222.0 555.9,224.7 558.2,227.4 560.3,230.0 562.2,232.2 563.7,234.2 565.0,235.6" fill="#55A44C" opacity="1"/>
<polygon points="557.7,262.6 556.8,260.5 555.5,257.3 553.9,253.5 552.2,249.4 550.2,245.5 548.2,242.1 546.4,239.4 544.8,237.7 543.1,237.6 541.8,238.8 541.0,240.6 540.3,242.9 539.8,245.3 539.4,247.6 539.0,249.5 538.7,250.7 538.7,250.7 539.2,249.5 539.8,247.7 540.5,245.4 541.2,243.1 542.1,241.1 542.9,239.5 543.6,238.9 544.0,239.1 545.0,240.4 546.4,243.0 548.0,246.6 549.6,250.6 551.5,254.5 553.2,258.3 554.6,261.4 555.7,263.6" fill="#72B468" opacity="1"/>
<polygon points="559.9,268.0 558.6,266.2 556.8,263.8 554.6,260.8 552.2,257.6 549.8,254.3 547.2,251.2 544.8,248.2 542.8,245.7 541.1,243.4 539.4,241.1 537.8,238.8 536.3,236.7 535.0,234.8 533.8,233.1 532.8,231.6 532.0,230.5 532.0,230.5 532.7,231.7 533.5,233.3 534.5,235.1 535.7,237.2 536.9,239.4 538.3,241.8 539.8,244.2 541.4,246.7 543.2,249.5 545.3,252.6 547.6,256.0 550.1,259.2 552.6,262.4 554.8,265.2 556.7,267.6 558.1,269.4" fill="#55A44C" opacity="1"/>
<polygon points="564.8,249.9 564.5,247.1 564.2,243.4 563.9,238.9 563.5,233.9 563.0,228.8 562.6,223.7 562.0,219.0 561.4,214.8 560.8,211.2 560.2,207.8 559.6,204.5 559.0,201.5 558.4,198.5 557.7,195.6 557.0,192.7 556.3,189.8 555.5,186.9 554.5,183.8 553.5,180.7 552.5,177.7 551.5,174.9 550.6,172.4 549.9,170.3 549.3,168.7 549.3,168.7 549.7,170.3 550.3,172.5 551.1,175.0 551.9,177.9 552.7,180.9 553.5,184.1 554.2,187.2 554.9,190.2 555.5,193.1 556.0,195.9 556.5,198.8 556.9,201.8 557.4,204.9 557.8,208.1 558.2,211.6 558.6,215.2 559.0,219.3 559.5,224.0 560.0,229.1 560.6,234.2 561.1,239.1 561.5,243.6 561.9,247.4 562.2,250.1" fill="#3A9536" opacity="1"/>
<polygon points="564.5,235.3 565.0,233.5 565.7,231.1 566.6,228.3 567.5,225.2 568.5,221.9 569.4,218.6 570.2,215.3 571.0,212.3 571.7,209.3 572.6,206.1 573.5,202.9 574.4,199.7 575.2,196.7 575.9,194.0 576.6,191.7 577.0,190.0 577.0,190.0 576.4,191.7 575.5,193.9 574.5,196.5 573.5,199.4 572.3,202.5 571.2,205.7 570.1,208.8 569.0,211.7 568.0,214.7 567.0,217.9 566.0,221.2 565.2,224.6 564.3,227.7 563.6,230.5 563.0,232.9 562.5,234.7" fill="#3A9536" opacity="1"/>
<polygon points="569.1,241.4 570.3,239.9 571.7,237.9 573.5,235.5 575.4,232.9 577.5,230.2 579.9,227.5 582.2,225.0 584.6,222.7 587.4,220.5 590.9,218.2 594.6,215.9 598.5,213.7 602.3,211.6 605.7,209.7 608.6,208.1 610.7,206.9 610.7,206.9 608.5,207.9 605.4,209.1 601.8,210.6 597.9,212.4 593.7,214.2 589.7,216.2 586.0,218.3 582.8,220.3 580.0,222.6 577.4,225.3 575.0,228.2 572.9,231.0 571.0,233.8 569.4,236.2 568.0,238.3 566.9,239.8" fill="#3A9536" opacity="1"/>
<polygon points="572.8,217.9 573.6,217.7 574.7,217.3 576.0,216.9 577.3,216.5 578.8,216.2 580.4,215.9 582.0,215.8 583.6,215.8 585.4,216.1 587.7,216.5 590.1,217.2 592.7,217.9 595.1,218.7 597.3,219.4 599.2,220.0 600.6,220.4 600.6,220.4 599.3,219.8 597.5,219.0 595.4,217.9 593.0,216.9 590.6,215.8 588.2,214.9 585.9,214.1 583.8,213.6 581.9,213.4 580.1,213.6 578.3,214.0 576.7,214.5 575.3,215.0 574.0,215.5 573.0,215.8 572.2,216.1" fill="#72B468" opacity="1"/>
<polygon points="568.6,263.0 570.3,262.1 572.6,260.7 575.3,259.1 578.2,257.4 581.1,255.6 583.9,254.0 586.3,252.8 588.3,252.2 589.8,252.3 591.3,252.8 592.8,253.8 594.2,255.1 595.5,256.5 596.6,257.9 597.6,259.0 598.4,259.7 598.4,259.7 597.8,258.9 597.0,257.6 596.0,256.1 594.9,254.5 593.6,253.0 592.0,251.7 590.2,250.7 588.1,250.4 585.7,250.8 582.9,251.8 579.8,253.2 576.7,254.9 573.8,256.8 571.2,258.5 569.0,260.0 567.4,261.0" fill="#72B468" opacity="1"/>
<polygon points="568.9,255.9 569.6,254.9 570.6,253.7 571.8,252.2 573.1,250.5 574.5,248.8 575.8,247.0 576.9,245.1 577.9,243.5 578.8,241.8 579.6,240.1 580.5,238.4 581.3,236.7 582.1,235.1 582.7,233.7 583.3,232.5 583.7,231.6 583.7,231.6 583.1,232.4 582.4,233.5 581.5,234.8 580.5,236.2 579.4,237.8 578.3,239.3 577.2,240.9 576.1,242.3 575.0,243.8 573.6,245.4 572.3,247.2 571.0,249.0 569.8,250.7 568.7,252.2 567.8,253.6 567.1,254.5" fill="#55A44C" opacity="1"/>
<polygon points="575.6,212.9 576.3,211.2 577.4,208.7 578.6,205.8 579.9,202.7 581.2,199.6 582.3,196.9 583.3,194.9 584.1,194.1 584.3,194.0 585.0,194.7 585.8,196.1 586.7,198.0 587.5,200.0 588.3,201.9 588.9,203.6 589.4,204.6 589.4,204.6 589.1,203.5 588.6,201.8 588.1,199.8 587.5,197.7 586.8,195.6 586.0,194.0 584.9,192.8 583.3,192.7 582.0,194.0 580.6,196.1 579.2,198.7 577.8,201.8 576.5,205.0 575.4,208.0 574.5,210.4 573.8,212.1" fill="#72B468" opacity="1"/>
<polygon points="551.5,199.7 552.3,200.6 553.4,201.8 554.7,203.2 556.2,204.8 557.8,206.5 559.4,208.1 561.2,209.6 562.9,210.9 564.7,212.2 566.6,213.4 568.7,214.6 570.7,215.8 572.7,216.9 574.4,217.8 575.9,218.6 577.0,219.2 577.0,219.2 576.0,218.4 574.6,217.5 573.0,216.3 571.2,215.0 569.3,213.6 567.4,212.2 565.7,210.8 564.1,209.5 562.6,208.0 561.1,206.4 559.4,204.9 557.8,203.3 556.3,201.7 554.9,200.4 553.8,199.2 552.9,198.3" fill="#3A9536" opacity="1"/>
<polygon points="567.0,232.7 568.2,231.1 569.8,229.1 571.8,226.7 574.0,224.0 576.3,221.0 578.7,217.7 581.1,214.3 583.2,210.7 585.3,206.6 587.5,201.9 589.8,196.8 592.1,191.6 594.3,186.5 596.2,182.0 597.8,178.1 599.0,175.3 599.0,175.3 597.6,178.0 595.6,181.7 593.4,186.1 590.9,191.0 588.3,196.0 585.6,200.9 583.1,205.5 580.8,209.3 578.6,212.7 576.4,216.1 574.1,219.3 571.9,222.3 569.8,225.1 567.9,227.6 566.3,229.6 565.0,231.3" fill="#3A9536" opacity="1"/>
<polygon points="563.0,261.7 562.2,259.2 561.2,255.7 559.9,251.7 558.5,247.2 557.1,242.5 555.6,237.9 554.1,233.6 552.9,229.8 551.8,226.2 550.7,222.5 549.7,218.9 548.8,215.4 547.9,212.2 547.2,209.3 546.5,206.9 546.0,205.0 546.0,205.0 546.3,206.9 546.8,209.4 547.3,212.3 548.0,215.6 548.7,219.1 549.4,222.8 550.3,226.6 551.1,230.2 552.1,234.2 553.3,238.6 554.7,243.3 556.2,247.9 557.7,252.4 559.0,256.4 560.2,259.8 561.0,262.3" fill="#3A9536" opacity="1"/>
<polygon points="566.9,266.5 568.0,264.4 569.6,261.6 571.4,258.2 573.4,254.5 575.4,250.6 577.3,246.8 579.1,243.3 580.7,240.4 582.2,238.0 583.9,235.7 585.5,233.6 587.1,231.6 588.7,229.9 590.0,228.3 591.1,227.1 592.0,226.0 592.0,226.0 591.0,226.9 589.8,228.1 588.3,229.5 586.6,231.1 584.8,232.9 583.0,235.0 581.1,237.2 579.3,239.6 577.4,242.4 575.4,245.7 573.2,249.4 571.1,253.3 569.3,257.1 567.6,260.5 566.1,263.4 565.1,265.5" fill="#3A9536" opacity="1"/>
<polygon points="561.0,258.2 561.5,255.9 562.2,252.8 563.0,249.1 563.9,245.0 564.8,240.7 565.7,236.3 566.4,232.1 567.0,228.2 567.6,224.4 568.2,220.3 568.8,216.2 569.3,212.2 569.9,208.4 570.3,205.0 570.7,202.2 571.0,200.0 571.0,200.0 570.5,202.1 569.9,204.9 569.2,208.3 568.4,212.0 567.6,216.0 566.7,220.1 565.9,224.1 565.0,227.8 564.2,231.6 563.2,235.8 562.3,240.2 561.5,244.5 560.7,248.6 560.0,252.3 559.4,255.5 559.0,257.8" fill="#55A44C" opacity="1"/>
<polygon points="562.0,268.4 562.7,266.6 563.6,264.3 564.8,261.5 566.0,258.4 567.4,255.1 568.7,251.7 570.0,248.5 571.1,245.4 572.2,242.4 573.2,239.2 574.3,236.0 575.4,232.8 576.4,229.8 577.4,226.9 578.4,224.4 579.4,222.2 580.3,220.4 581.3,218.9 582.2,217.7 583.2,216.7 584.1,215.8 584.8,215.1 585.5,214.5 586.0,214.0 586.0,214.0 585.4,214.5 584.7,215.0 583.9,215.7 583.0,216.4 581.9,217.4 580.8,218.6 579.7,220.0 578.6,221.8 577.5,224.0 576.4,226.5 575.1,229.3 573.9,232.3 572.6,235.4 571.4,238.6 570.1,241.6 568.9,244.6 567.6,247.6 566.4,250.8 565.1,254.2 563.8,257.5 562.7,260.6 561.6,263.5 560.7,265.8 560.0,267.6" fill="#72B468" opacity="1"/>
<polygon points="561.0,269.3 560.1,267.9 558.9,266.0 557.5,263.8 555.9,261.3 554.2,258.6 552.5,256.0 550.8,253.4 549.1,251.2 547.5,249.1 545.9,247.0 544.2,244.9 542.5,242.9 540.9,240.9 539.3,239.1 537.9,237.3 536.5,235.6 535.2,234.1 533.9,232.6 532.6,231.2 531.5,229.8 530.4,228.6 529.4,227.6 528.6,226.7 528.0,226.0 528.0,226.0 528.5,226.8 529.3,227.7 530.1,228.9 531.0,230.2 532.1,231.6 533.2,233.1 534.3,234.7 535.5,236.4 536.8,238.1 538.1,240.0 539.5,242.0 541.0,244.1 542.4,246.2 543.9,248.4 545.4,250.6 546.9,252.8 548.3,255.1 550.1,257.6 551.9,260.2 553.6,262.7 555.3,265.2 556.8,267.4 558.0,269.3 559.0,270.7" fill="#3A9536" opacity="1"/>
<polygon points="564.1,270.5 564.8,268.9 565.6,266.8 566.6,264.3 567.7,261.6 569.0,258.8 570.3,255.9 571.7,253.2 573.2,250.8 574.9,248.6 576.6,246.3 578.5,244.0 580.5,241.7 582.5,239.4 584.6,237.2 586.6,234.9 588.6,232.6 590.7,230.1 592.8,227.5 595.1,224.8 597.3,222.1 599.4,219.6 601.3,217.4 602.8,215.4 604.0,214.0 604.0,214.0 602.7,215.3 601.0,217.1 599.0,219.2 596.7,221.6 594.3,224.1 591.9,226.7 589.6,229.1 587.4,231.4 585.3,233.6 583.1,235.7 580.9,237.9 578.7,240.0 576.5,242.2 574.4,244.5 572.5,246.8 570.8,249.2 569.2,251.8 567.8,254.7 566.5,257.7 565.3,260.6 564.2,263.4 563.3,265.9 562.5,268.0 561.9,269.5" fill="#55A44C" opacity="1"/>
<polygon points="563.1,265.8 562.7,263.7 562.1,260.9 561.5,257.6 560.8,253.9 560.0,250.0 559.1,246.2 558.2,242.7 557.2,239.6 556.2,236.9 555.1,234.4 554.0,232.0 552.9,229.8 551.8,227.6 550.7,225.6 549.6,223.6 548.5,221.7 547.4,219.9 546.2,218.1 544.9,216.3 543.7,214.7 542.6,213.3 541.5,211.9 540.7,210.9 540.0,210.0 540.0,210.0 540.6,210.9 541.3,212.1 542.3,213.5 543.3,215.0 544.4,216.7 545.5,218.5 546.5,220.4 547.5,222.3 548.4,224.2 549.4,226.2 550.4,228.3 551.3,230.5 552.3,232.8 553.2,235.2 554.0,237.7 554.8,240.4 555.6,243.4 556.4,246.9 557.4,250.6 558.2,254.4 559.1,258.1 559.8,261.4 560.4,264.2 560.9,266.2" fill="#55A44C" opacity="1"/>
<polygon points="565.8,268.7 566.6,267.8 567.7,266.5 569.0,265.0 570.5,263.4 572.1,261.7 573.7,260.0 575.3,258.4 576.9,257.0 578.4,255.5 580.0,254.0 581.7,252.6 583.5,251.1 585.2,249.8 587.0,248.5 588.6,247.4 590.2,246.5 591.8,245.8 593.5,245.3 595.2,244.9 596.9,244.6 598.5,244.4 599.9,244.3 601.1,244.2 602.0,244.0 602.0,244.0 601.1,244.0 599.9,244.1 598.5,244.1 596.8,244.1 595.1,244.2 593.3,244.5 591.5,244.9 589.8,245.5 588.0,246.3 586.2,247.3 584.3,248.4 582.4,249.6 580.5,250.9 578.6,252.3 576.8,253.7 575.1,255.0 573.5,256.6 571.9,258.3 570.3,260.1 568.8,261.9 567.3,263.6 566.1,265.1 565.0,266.4 564.2,267.3" fill="#3A9536" opacity="1"/>
<polygon points="559.4,261.1 558.4,260.6 557.1,259.9 555.5,259.1 553.8,258.3 551.9,257.4 550.0,256.5 548.1,255.8 546.4,255.1 544.8,254.4 543.0,253.7 541.2,252.9 539.4,252.2 537.7,251.5 536.2,250.9 535.0,250.4 534.0,250.0 534.0,250.0 534.9,250.6 536.0,251.3 537.4,252.1 539.0,253.0 540.6,254.0 542.3,255.0 544.0,256.0 545.6,256.9 547.2,257.8 549.0,258.8 550.8,259.7 552.7,260.5 554.6,261.2 556.2,261.9 557.5,262.5 558.6,262.9" fill="#55A44C" opacity="1"/>
<polyline points="547.5,190.7 547.1,188.7 546.8,185.9 546.4,182.5 545.9,178.8 545.2,175.1 544.1,171.6 542.6,168.4 540.5,166.0 537.6,164.2 533.8,162.7 529.4,161.6 524.8,160.7 520.2,159.9 516.0,159.4 512.4,158.9 509.9,158.4" fill="none" stroke="#E9A83A" stroke-width="1.9" stroke-linecap="round" stroke-linejoin="round" opacity="1"/>
<circle cx="547.5" cy="188.1" r="1.05" fill="#E9A83A"/>
<circle cx="545.7" cy="180.8" r="1.05" fill="#E9A83A"/>
<circle cx="545.9" cy="176.8" r="1.05" fill="#E9A83A"/>
<circle cx="542.9" cy="169.2" r="1.05" fill="#E9A83A"/>
<circle cx="541.1" cy="167.0" r="1.05" fill="#E9A83A"/>
<circle cx="534.8" cy="162.3" r="1.05" fill="#E9A83A"/>
<circle cx="529.1" cy="162.4" r="1.05" fill="#E9A83A"/>
<circle cx="520.5" cy="159.1" r="1.05" fill="#E9A83A"/>
<circle cx="515.0" cy="160.2" r="1.05" fill="#E9A83A"/>
<polyline points="547.5,189.0 546.2,186.9 544.6,183.9 542.7,180.3 540.6,176.5 538.2,172.6 535.6,169.2 532.9,166.3 530.0,164.5 526.7,163.7 522.9,163.7 518.7,164.2 514.5,165.2 510.3,166.3 506.6,167.4 503.4,168.4 501.1,168.9" fill="none" stroke="#E9A83A" stroke-width="1.9" stroke-linecap="round" stroke-linejoin="round" opacity="1"/>
<circle cx="545.9" cy="186.2" r="1.05" fill="#E9A83A"/>
<circle cx="541.7" cy="178.6" r="1.05" fill="#E9A83A"/>
<circle cx="539.3" cy="174.4" r="1.05" fill="#E9A83A"/>
<circle cx="533.9" cy="166.9" r="1.05" fill="#E9A83A"/>
<circle cx="530.6" cy="165.5" r="1.05" fill="#E9A83A"/>
<circle cx="523.9" cy="162.6" r="1.05" fill="#E9A83A"/>
<circle cx="518.5" cy="165.4" r="1.05" fill="#E9A83A"/>
<circle cx="510.5" cy="165.1" r="1.05" fill="#E9A83A"/>
<circle cx="505.8" cy="168.8" r="1.05" fill="#E9A83A"/>
<polyline points="549.2,185.5 548.3,183.4 547.0,180.4 545.5,176.8 543.9,172.9 542.1,168.9 540.3,165.2 538.6,161.8 537.0,159.2 535.4,157.2 533.6,155.6 531.9,154.3 530.1,153.2 528.4,152.4 526.9,151.7 525.6,151.1 524.7,150.5" fill="none" stroke="#E9A83A" stroke-width="1.9" stroke-linecap="round" stroke-linejoin="round" opacity="1"/>
<circle cx="548.1" cy="182.6" r="1.05" fill="#E9A83A"/>
<circle cx="544.6" cy="175.0" r="1.05" fill="#E9A83A"/>
<circle cx="543.1" cy="170.7" r="1.05" fill="#E9A83A"/>
<circle cx="539.0" cy="162.8" r="1.05" fill="#E9A83A"/>
<circle cx="537.6" cy="160.2" r="1.05" fill="#E9A83A"/>
<circle cx="533.7" cy="155.2" r="1.05" fill="#E9A83A"/>
<circle cx="532.1" cy="155.0" r="1.05" fill="#E9A83A"/>
<circle cx="528.1" cy="151.5" r="1.05" fill="#E9A83A"/>
<circle cx="527.0" cy="152.4" r="1.05" fill="#E9A83A"/>
<polyline points="561.5,185.5 561.2,183.2 560.8,180.1 560.4,176.4 559.8,172.3 559.2,168.1 558.4,164.1 557.4,160.5 556.2,157.5 554.6,155.1 552.6,152.9 550.4,150.9 548.0,149.2 545.7,147.7 543.6,146.4 541.8,145.3 540.5,144.4" fill="none" stroke="#E9A83A" stroke-width="1.9" stroke-linecap="round" stroke-linejoin="round" opacity="1"/>
<circle cx="561.5" cy="182.5" r="1.05" fill="#E9A83A"/>
<circle cx="559.7" cy="174.6" r="1.05" fill="#E9A83A"/>
<circle cx="559.9" cy="170.0" r="1.05" fill="#E9A83A"/>
<circle cx="557.4" cy="161.6" r="1.05" fill="#E9A83A"/>
<circle cx="556.8" cy="158.5" r="1.05" fill="#E9A83A"/>
<circle cx="552.9" cy="152.7" r="1.05" fill="#E9A83A"/>
<circle cx="550.5" cy="151.6" r="1.05" fill="#E9A83A"/>
<circle cx="545.5" cy="147.0" r="1.05" fill="#E9A83A"/>
<circle cx="543.4" cy="146.9" r="1.05" fill="#E9A83A"/>
<polyline points="556.0,180.0 554.9,178.2 553.6,175.6 552.0,172.5 550.2,169.2 548.1,166.0 545.9,163.2 543.5,161.1 541.0,160.0 538.0,160.1 534.5,161.1 530.6,162.8 526.7,164.9 522.8,167.2 519.3,169.4 516.3,171.2 514.2,172.4" fill="none" stroke="#E9A83A" stroke-width="1.9" stroke-linecap="round" stroke-linejoin="round" opacity="1"/>
<circle cx="554.7" cy="177.8" r="1.05" fill="#E9A83A"/>
<circle cx="551.0" cy="170.9" r="1.05" fill="#E9A83A"/>
<circle cx="549.2" cy="167.6" r="1.05" fill="#E9A83A"/>
<circle cx="544.4" cy="161.2" r="1.05" fill="#E9A83A"/>
<circle cx="541.6" cy="161.0" r="1.05" fill="#E9A83A"/>
<circle cx="535.4" cy="159.6" r="1.05" fill="#E9A83A"/>
<circle cx="530.4" cy="164.2" r="1.05" fill="#E9A83A"/>
<circle cx="523.0" cy="165.8" r="1.05" fill="#E9A83A"/>
<circle cx="518.6" cy="171.2" r="1.05" fill="#E9A83A"/>
<polyline points="552.0,176.0 551.1,174.4 550.0,172.2 548.6,169.5 547.1,166.6 545.4,163.6 543.6,160.8 541.8,158.2 540.0,156.0 538.0,154.2 535.7,152.6 533.2,151.1 530.8,149.8 528.3,148.6 526.2,147.6 524.3,146.7 523.0,146.0" fill="none" stroke="#E9A83A" stroke-width="1.9" stroke-linecap="round" stroke-linejoin="round" opacity="1"/>
<circle cx="551.0" cy="174.1" r="1.05" fill="#E9A83A"/>
<circle cx="547.7" cy="168.0" r="1.05" fill="#E9A83A"/>
<circle cx="546.3" cy="165.2" r="1.05" fill="#E9A83A"/>
<circle cx="542.3" cy="158.7" r="1.05" fill="#E9A83A"/>
<circle cx="540.6" cy="157.0" r="1.05" fill="#E9A83A"/>
<circle cx="536.0" cy="152.2" r="1.05" fill="#E9A83A"/>
<circle cx="533.3" cy="151.8" r="1.05" fill="#E9A83A"/>
<circle cx="528.2" cy="147.8" r="1.05" fill="#E9A83A"/>
<circle cx="526.0" cy="148.2" r="1.05" fill="#E9A83A"/>
<polyline points="545.0,176.0 543.9,174.8 542.5,173.2 540.8,171.2 538.9,169.0 536.8,166.8 534.6,164.8 532.3,163.2 530.0,162.0 527.4,161.3 524.5,161.0 521.3,161.0 518.1,161.1 514.9,161.4 512.1,161.7 509.7,161.9 508.0,162.0" fill="none" stroke="#E9A83A" stroke-width="1.9" stroke-linecap="round" stroke-linejoin="round" opacity="1"/>
<circle cx="543.7" cy="174.9" r="1.05" fill="#E9A83A"/>
<circle cx="539.8" cy="169.7" r="1.05" fill="#E9A83A"/>
<circle cx="537.8" cy="168.3" r="1.05" fill="#E9A83A"/>
<circle cx="533.1" cy="163.1" r="1.05" fill="#E9A83A"/>
<circle cx="530.6" cy="163.0" r="1.05" fill="#E9A83A"/>
<circle cx="525.1" cy="160.1" r="1.05" fill="#E9A83A"/>
<circle cx="521.2" cy="162.0" r="1.05" fill="#E9A83A"/>
<circle cx="515.0" cy="160.3" r="1.05" fill="#E9A83A"/>
<circle cx="511.7" cy="162.8" r="1.05" fill="#E9A83A"/>
<polyline points="579.0,183.7 579.5,181.5 579.9,178.5 580.5,174.9 581.1,170.9 582.1,166.9 583.3,163.2 584.9,160.0 586.9,157.5 589.7,155.8 593.3,154.6 597.4,153.7 601.8,153.2 606.1,152.9 610.0,152.7 613.3,152.5 615.7,152.2" fill="none" stroke="#E9A83A" stroke-width="1.9" stroke-linecap="round" stroke-linejoin="round" opacity="1"/>
<circle cx="580.3" cy="180.8" r="1.05" fill="#E9A83A"/>
<circle cx="580.0" cy="173.1" r="1.05" fill="#E9A83A"/>
<circle cx="582.5" cy="168.7" r="1.05" fill="#E9A83A"/>
<circle cx="583.3" cy="160.8" r="1.05" fill="#E9A83A"/>
<circle cx="587.5" cy="158.5" r="1.05" fill="#E9A83A"/>
<circle cx="591.2" cy="154.0" r="1.05" fill="#E9A83A"/>
<circle cx="598.9" cy="154.6" r="1.05" fill="#E9A83A"/>
<circle cx="604.7" cy="151.9" r="1.05" fill="#E9A83A"/>
<circle cx="612.0" cy="153.6" r="1.05" fill="#E9A83A"/>
<polyline points="565.0,182.0 565.6,180.1 566.3,177.5 567.2,174.4 568.1,171.0 569.3,167.5 570.6,164.3 572.0,161.4 573.7,159.2 575.7,157.6 578.2,156.4 581.0,155.4 583.9,154.7 586.7,154.2 589.3,153.8 591.4,153.5 593.0,153.1" fill="none" stroke="#E9A83A" stroke-width="1.9" stroke-linecap="round" stroke-linejoin="round" opacity="1"/>
<circle cx="566.6" cy="179.6" r="1.05" fill="#E9A83A"/>
<circle cx="566.7" cy="172.7" r="1.05" fill="#E9A83A"/>
<circle cx="569.6" cy="169.2" r="1.05" fill="#E9A83A"/>
<circle cx="570.5" cy="162.1" r="1.05" fill="#E9A83A"/>
<circle cx="574.3" cy="160.2" r="1.05" fill="#E9A83A"/>
<circle cx="576.6" cy="155.8" r="1.05" fill="#E9A83A"/>
<circle cx="582.2" cy="156.3" r="1.05" fill="#E9A83A"/>
<circle cx="585.6" cy="153.3" r="1.05" fill="#E9A83A"/>
<circle cx="590.8" cy="154.7" r="1.05" fill="#E9A83A"/>
<polyline points="582.5,168.9 583.8,168.0 585.4,166.6 587.4,165.0 589.6,163.3 592.0,161.6 594.5,160.2 597.2,159.0 600.0,158.4 603.1,158.3 606.7,158.7 610.7,159.4 614.6,160.3 618.5,161.3 622.0,162.3 624.9,163.1 627.1,163.6" fill="none" stroke="#E9A83A" stroke-width="1.9" stroke-linecap="round" stroke-linejoin="round" opacity="1"/>
<circle cx="585.3" cy="168.2" r="1.05" fill="#E9A83A"/>
<circle cx="587.2" cy="163.7" r="1.05" fill="#E9A83A"/>
<circle cx="592.1" cy="163.0" r="1.05" fill="#E9A83A"/>
<circle cx="595.0" cy="158.7" r="1.05" fill="#E9A83A"/>
<circle cx="600.6" cy="159.4" r="1.05" fill="#E9A83A"/>
<circle cx="604.6" cy="157.5" r="1.05" fill="#E9A83A"/>
<circle cx="612.0" cy="160.6" r="1.05" fill="#E9A83A"/>
<circle cx="617.2" cy="160.1" r="1.05" fill="#E9A83A"/>
<circle cx="623.9" cy="163.6" r="1.05" fill="#E9A83A"/>
<polyline points="586.0,165.0 587.1,164.8 588.6,164.5 590.3,164.2 592.2,163.8 594.3,163.5 596.3,163.2 598.2,163.1 600.0,163.0 601.7,163.1 603.5,163.3 605.2,163.7 607.0,164.1 608.6,164.5 610.1,164.9 611.3,165.2 612.2,165.4" fill="none" stroke="#E9A83A" stroke-width="1.9" stroke-linecap="round" stroke-linejoin="round" opacity="1"/>
<circle cx="588.5" cy="165.7" r="1.05" fill="#E9A83A"/>
<circle cx="590.1" cy="163.1" r="1.05" fill="#E9A83A"/>
<circle cx="594.5" cy="164.6" r="1.05" fill="#E9A83A"/>
<circle cx="596.5" cy="162.2" r="1.05" fill="#E9A83A"/>
<circle cx="600.6" cy="164.0" r="1.05" fill="#E9A83A"/>
<circle cx="602.2" cy="162.2" r="1.05" fill="#E9A83A"/>
<circle cx="606.2" cy="164.8" r="1.05" fill="#E9A83A"/>
<circle cx="607.7" cy="163.4" r="1.05" fill="#E9A83A"/>
<circle cx="611.2" cy="166.0" r="1.05" fill="#E9A83A"/>
<polyline points="575.0,172.0 576.2,170.7 577.7,168.9 579.5,166.7 581.5,164.4 583.6,162.0 585.8,159.7 588.0,157.6 590.0,156.0 592.1,154.7 594.3,153.7 596.6,152.8 598.9,152.0 601.1,151.4 603.1,150.8 604.8,150.4 606.0,150.0" fill="none" stroke="#E9A83A" stroke-width="1.9" stroke-linecap="round" stroke-linejoin="round" opacity="1"/>
<circle cx="577.6" cy="170.7" r="1.05" fill="#E9A83A"/>
<circle cx="579.3" cy="165.3" r="1.05" fill="#E9A83A"/>
<circle cx="583.8" cy="163.4" r="1.05" fill="#E9A83A"/>
<circle cx="586.1" cy="157.8" r="1.05" fill="#E9A83A"/>
<circle cx="590.6" cy="157.0" r="1.05" fill="#E9A83A"/>
<circle cx="592.8" cy="153.1" r="1.05" fill="#E9A83A"/>
<circle cx="597.7" cy="153.6" r="1.05" fill="#E9A83A"/>
<circle cx="600.1" cy="150.5" r="1.05" fill="#E9A83A"/>
<circle cx="604.4" cy="151.7" r="1.05" fill="#E9A83A"/>
<polyline points="550.0,183.0 549.0,181.8 547.9,180.0 546.5,177.9 544.9,175.7 543.1,173.4 541.0,171.3 538.7,169.4 536.0,168.0 532.7,167.0 528.7,166.3 524.3,165.9 519.6,165.6 515.1,165.4 511.0,165.3 507.5,165.1 505.0,165.0" fill="none" stroke="#E9A83A" stroke-width="1.9" stroke-linecap="round" stroke-linejoin="round" opacity="1"/>
<circle cx="549.0" cy="181.8" r="1.05" fill="#E9A83A"/>
<circle cx="545.6" cy="176.5" r="1.05" fill="#E9A83A"/>
<circle cx="544.1" cy="174.9" r="1.05" fill="#E9A83A"/>
<circle cx="539.5" cy="169.5" r="1.05" fill="#E9A83A"/>
<circle cx="536.6" cy="169.0" r="1.05" fill="#E9A83A"/>
<circle cx="529.8" cy="165.6" r="1.05" fill="#E9A83A"/>
<circle cx="523.9" cy="166.8" r="1.05" fill="#E9A83A"/>
<circle cx="515.4" cy="164.4" r="1.05" fill="#E9A83A"/>
<circle cx="510.1" cy="166.2" r="1.05" fill="#E9A83A"/>
<polyline points="556.0,172.0 555.4,170.4 554.8,168.1 553.9,165.3 553.0,162.4 551.9,159.4 550.8,156.5 549.4,154.0 548.0,152.0 546.3,150.5 544.2,149.4 541.9,148.5 539.5,147.8 537.2,147.2 535.1,146.8 533.3,146.4 532.0,146.0" fill="none" stroke="#E9A83A" stroke-width="1.9" stroke-linecap="round" stroke-linejoin="round" opacity="1"/>
<circle cx="555.6" cy="170.1" r="1.05" fill="#E9A83A"/>
<circle cx="553.2" cy="163.8" r="1.05" fill="#E9A83A"/>
<circle cx="552.8" cy="161.0" r="1.05" fill="#E9A83A"/>
<circle cx="549.6" cy="154.4" r="1.05" fill="#E9A83A"/>
<circle cx="548.6" cy="153.0" r="1.05" fill="#E9A83A"/>
<circle cx="544.5" cy="148.8" r="1.05" fill="#E9A83A"/>
<circle cx="542.0" cy="149.3" r="1.05" fill="#E9A83A"/>
<circle cx="537.0" cy="146.3" r="1.05" fill="#E9A83A"/>
<circle cx="534.9" cy="147.6" r="1.05" fill="#E9A83A"/>
<polyline points="580.0,178.0 581.2,176.5 582.7,174.4 584.5,171.9 586.5,169.1 588.7,166.4 591.1,163.8 593.5,161.6 596.0,160.0 598.8,159.0 602.0,158.3 605.5,158.0 609.0,157.9 612.4,157.9 615.5,158.0 618.1,158.0 620.0,158.0" fill="none" stroke="#E9A83A" stroke-width="1.9" stroke-linecap="round" stroke-linejoin="round" opacity="1"/>
<circle cx="582.6" cy="176.3" r="1.05" fill="#E9A83A"/>
<circle cx="584.3" cy="170.3" r="1.05" fill="#E9A83A"/>
<circle cx="588.9" cy="167.9" r="1.05" fill="#E9A83A"/>
<circle cx="591.4" cy="161.9" r="1.05" fill="#E9A83A"/>
<circle cx="596.6" cy="161.0" r="1.05" fill="#E9A83A"/>
<circle cx="600.1" cy="157.5" r="1.05" fill="#E9A83A"/>
<circle cx="606.8" cy="159.0" r="1.05" fill="#E9A83A"/>
<circle cx="611.1" cy="156.9" r="1.05" fill="#E9A83A"/>
<circle cx="617.2" cy="159.0" r="1.05" fill="#E9A83A"/>
<polyline points="570.0,178.0 570.5,176.6 571.2,174.6 571.9,172.2 572.8,169.6 573.8,167.0 575.0,164.4 576.4,162.0 578.0,160.0 580.1,158.3 582.6,156.7 585.5,155.2 588.5,153.9 591.4,152.7 594.1,151.6 596.4,150.7 598.0,150.0" fill="none" stroke="#E9A83A" stroke-width="1.9" stroke-linecap="round" stroke-linejoin="round" opacity="1"/>
<circle cx="571.5" cy="176.4" r="1.05" fill="#E9A83A"/>
<circle cx="571.4" cy="170.7" r="1.05" fill="#E9A83A"/>
<circle cx="574.2" cy="168.5" r="1.05" fill="#E9A83A"/>
<circle cx="574.9" cy="162.4" r="1.05" fill="#E9A83A"/>
<circle cx="578.6" cy="161.0" r="1.05" fill="#E9A83A"/>
<circle cx="581.0" cy="156.3" r="1.05" fill="#E9A83A"/>
<circle cx="586.7" cy="155.9" r="1.05" fill="#E9A83A"/>
<circle cx="590.3" cy="151.9" r="1.05" fill="#E9A83A"/>
<circle cx="595.7" cy="152.2" r="1.05" fill="#E9A83A"/>
<polyline points="756.4,169.0 756.4,172.1 756.4,176.3 756.5,181.3 756.5,186.8 756.5,192.7 756.5,198.6 756.6,204.5 756.6,210.0 756.6,215.6 756.7,221.6 756.8,227.9 756.8,234.1 756.9,239.9 756.9,245.2 757.0,249.7 757.0,253.0" fill="none" stroke="#4E9A4C" stroke-width="1.5" stroke-linecap="round" stroke-linejoin="round" opacity="1"/>
<polygon points="757.9,202.4 757.7,202.2 757.6,201.9 757.4,201.6 757.2,201.2 756.9,200.7 756.6,200.3 756.4,199.8 756.0,199.3 755.7,198.9 755.3,198.4 755.0,197.9 754.6,197.4 754.2,196.9 753.8,196.4 753.4,195.9 753.0,195.4 752.6,194.9 752.1,194.4 751.7,193.9 751.3,193.4 750.9,192.9 750.5,192.4 750.1,192.0 749.8,191.5 749.5,191.0 749.1,190.4 748.8,189.9 748.5,189.4 748.1,188.8 747.8,188.3 747.4,187.9 747.0,187.4 746.6,186.9 746.2,186.3 745.8,185.8 745.4,185.2 745.0,184.6 744.6,184.0 744.3,183.4 743.9,182.9 743.5,182.3 743.2,181.8 742.9,181.2 742.5,180.6 742.2,180.1 741.8,179.5 741.5,178.9 741.1,178.4 740.7,177.9 740.3,177.3 739.9,176.8 739.5,176.3 739.0,175.8 738.6,175.4 738.2,174.9 737.7,174.4 737.3,174.0 736.8,173.6 736.3,173.2 735.9,172.8 735.4,172.4 734.9,172.0 734.5,171.7 734.0,171.4 733.6,171.1 733.1,170.9 732.7,170.7 732.3,170.5 731.9,170.3 731.5,170.2 731.2,170.1 731.0,170.0 731.0,170.0 731.2,170.2 731.4,170.3 731.8,170.6 732.1,170.8 732.5,171.1 732.8,171.4 733.2,171.7 733.5,172.0 733.9,172.4 734.2,172.8 734.6,173.2 734.9,173.7 735.3,174.1 735.7,174.6 736.0,175.1 736.3,175.6 736.6,176.1 737.0,176.6 737.3,177.1 737.6,177.6 737.8,178.2 738.1,178.7 738.4,179.3 738.7,179.8 738.9,180.4 739.1,180.9 739.3,181.5 739.6,182.1 739.8,182.7 740.0,183.3 740.2,184.0 740.5,184.6 740.8,185.2 741.0,185.9 741.3,186.6 741.6,187.2 741.9,187.9 742.2,188.6 742.5,189.3 742.8,190.0 743.2,190.6 743.5,191.2 743.9,191.8 744.4,192.4 744.9,192.9 745.4,193.4 745.8,193.9 746.3,194.4 746.9,194.9 747.4,195.4 747.9,195.9 748.4,196.3 748.9,196.7 749.4,197.1 749.9,197.5 750.4,197.9 750.8,198.3 751.3,198.7 751.8,199.1 752.3,199.6 752.7,200.0 753.2,200.4 753.6,200.7 754.0,201.1 754.3,201.4 754.6,201.8 754.9,202.1 755.2,202.5 755.5,202.8 755.8,203.1 756.0,203.4 756.1,203.6" fill="#5BA658" opacity="1"/>
<polygon points="756.9,210.4 756.7,210.2 756.6,209.9 756.4,209.5 756.1,209.1 755.9,208.7 755.6,208.2 755.3,207.7 755.0,207.2 754.6,206.7 754.2,206.2 753.9,205.7 753.4,205.2 753.0,204.6 752.5,204.1 752.1,203.5 751.6,203.0 751.1,202.5 750.6,202.0 750.1,201.5 749.5,201.0 749.0,200.5 748.5,200.0 747.9,199.6 747.4,199.1 746.8,198.6 746.2,198.2 745.6,197.7 745.1,197.3 744.5,196.8 743.9,196.5 743.3,196.1 742.7,195.8 742.1,195.5 741.4,195.1 740.8,194.7 740.1,194.4 739.5,194.0 738.8,193.6 738.2,193.2 737.5,192.9 736.9,192.5 736.4,192.2 735.8,191.8 735.2,191.4 734.6,191.0 734.0,190.7 733.3,190.3 732.7,190.0 732.1,189.6 731.5,189.3 730.8,189.0 730.2,188.7 729.6,188.4 728.9,188.1 728.3,187.8 727.7,187.6 727.0,187.3 726.4,187.1 725.7,186.9 725.1,186.7 724.4,186.6 723.8,186.4 723.2,186.3 722.6,186.1 722.1,186.1 721.5,186.0 721.0,186.0 720.5,186.0 720.0,186.0 719.6,186.0 719.3,186.0 719.0,186.0 719.0,186.0 719.3,186.1 719.6,186.2 720.0,186.2 720.4,186.3 720.9,186.5 721.4,186.6 721.9,186.8 722.4,187.0 722.9,187.2 723.5,187.4 724.0,187.7 724.6,188.0 725.2,188.3 725.7,188.6 726.3,188.9 726.9,189.2 727.4,189.6 727.9,189.9 728.5,190.3 729.0,190.7 729.5,191.1 730.1,191.5 730.6,191.9 731.1,192.3 731.6,192.8 732.1,193.2 732.6,193.6 733.1,194.1 733.7,194.6 734.2,195.0 734.7,195.5 735.3,196.0 735.9,196.5 736.4,197.0 737.0,197.5 737.6,198.0 738.2,198.4 738.8,198.9 739.4,199.4 740.0,199.9 740.5,200.3 741.1,200.8 741.8,201.2 742.4,201.5 743.0,201.8 743.6,202.1 744.2,202.5 744.7,202.8 745.3,203.1 745.9,203.5 746.5,203.8 747.1,204.2 747.6,204.5 748.2,204.9 748.7,205.3 749.2,205.6 749.7,206.0 750.2,206.4 750.7,206.8 751.2,207.3 751.6,207.7 752.1,208.1 752.5,208.5 752.9,208.9 753.2,209.3 753.6,209.7 753.9,210.0 754.2,210.4 754.5,210.8 754.7,211.1 755.0,211.4 755.1,211.6" fill="#5BA658" opacity="1"/>
<polygon points="756.8,218.4 756.7,218.2 756.6,217.9 756.3,217.5 756.1,217.1 755.8,216.6 755.5,216.1 755.2,215.7 754.9,215.2 754.5,214.7 754.1,214.2 753.7,213.6 753.3,213.1 752.9,212.6 752.4,212.0 751.9,211.5 751.5,211.0 751.0,210.4 750.5,209.9 750.0,209.4 749.5,209.0 749.0,208.5 748.5,208.0 748.0,207.6 747.5,207.1 747.0,206.6 746.5,206.2 746.0,205.7 745.5,205.3 745.0,204.9 744.5,204.6 743.9,204.2 743.4,203.9 742.9,203.5 742.3,203.1 741.8,202.8 741.2,202.4 740.7,202.0 740.1,201.6 739.6,201.2 739.0,200.8 738.5,200.4 738.0,200.1 737.5,199.7 737.0,199.3 736.4,199.0 735.9,198.6 735.3,198.3 734.7,197.9 734.1,197.6 733.5,197.4 732.8,197.1 732.2,196.9 731.6,196.6 730.9,196.4 730.3,196.3 729.7,196.1 729.0,195.9 728.3,195.8 727.7,195.7 727.0,195.7 726.4,195.6 725.7,195.5 725.1,195.5 724.6,195.5 724.0,195.5 723.5,195.6 722.9,195.6 722.4,195.7 722.0,195.8 721.6,195.9 721.3,195.9 721.0,196.0 721.0,196.0 721.3,196.0 721.6,196.0 722.0,196.1 722.5,196.1 722.9,196.1 723.4,196.2 724.0,196.3 724.5,196.4 725.0,196.5 725.5,196.6 726.1,196.8 726.7,197.0 727.3,197.2 727.9,197.4 728.5,197.6 729.1,197.9 729.6,198.1 730.1,198.4 730.7,198.7 731.2,199.0 731.7,199.3 732.2,199.7 732.7,200.0 733.2,200.4 733.6,200.7 734.0,201.1 734.4,201.5 734.8,201.9 735.2,202.3 735.6,202.8 736.1,203.3 736.6,203.7 737.0,204.2 737.5,204.7 737.9,205.1 738.4,205.6 738.9,206.1 739.4,206.6 739.9,207.1 740.4,207.6 740.9,208.1 741.4,208.6 741.9,209.0 742.4,209.4 743.0,209.7 743.5,210.1 744.1,210.4 744.6,210.8 745.2,211.1 745.8,211.5 746.3,211.9 746.9,212.2 747.4,212.6 748.0,212.9 748.5,213.3 749.0,213.7 749.5,214.1 750.0,214.5 750.5,214.9 751.0,215.3 751.5,215.7 752.0,216.2 752.4,216.6 752.8,216.9 753.2,217.3 753.5,217.7 753.9,218.1 754.2,218.4 754.5,218.8 754.7,219.1 755.0,219.4 755.2,219.6" fill="#5BA658" opacity="1"/>
<polygon points="756.8,226.3 756.7,226.1 756.5,225.9 756.3,225.6 756.0,225.2 755.7,224.8 755.4,224.4 755.1,224.0 754.7,223.6 754.4,223.1 754.0,222.7 753.6,222.3 753.1,221.8 752.7,221.4 752.2,220.9 751.7,220.5 751.2,220.1 750.8,219.7 750.2,219.2 749.7,218.8 749.2,218.5 748.7,218.1 748.2,217.7 747.7,217.3 747.2,217.0 746.7,216.6 746.2,216.3 745.7,215.9 745.2,215.6 744.7,215.2 744.3,214.9 743.7,214.7 743.2,214.4 742.7,214.2 742.2,213.9 741.7,213.6 741.1,213.3 740.6,213.0 740.0,212.7 739.5,212.4 739.0,212.1 738.5,211.9 738.0,211.6 737.5,211.3 736.9,211.0 736.4,210.7 735.8,210.4 735.3,210.1 734.7,209.8 734.1,209.6 733.5,209.3 732.8,209.1 732.2,208.9 731.6,208.7 730.9,208.5 730.3,208.3 729.7,208.2 729.0,208.0 728.4,207.9 727.7,207.8 727.0,207.7 726.4,207.7 725.7,207.6 725.1,207.6 724.6,207.6 724.0,207.6 723.5,207.6 722.9,207.7 722.4,207.7 722.0,207.8 721.6,207.9 721.3,207.9 721.0,208.0 721.0,208.0 721.3,208.0 721.6,208.1 722.0,208.1 722.5,208.1 722.9,208.2 723.5,208.3 724.0,208.3 724.5,208.5 725.0,208.6 725.5,208.8 726.1,208.9 726.7,209.2 727.3,209.4 727.9,209.6 728.5,209.8 729.0,210.1 729.6,210.3 730.1,210.6 730.7,210.9 731.2,211.2 731.7,211.5 732.2,211.8 732.7,212.2 733.2,212.5 733.6,212.8 734.1,213.1 734.5,213.5 734.9,213.9 735.3,214.2 735.8,214.6 736.2,215.0 736.7,215.4 737.2,215.8 737.7,216.2 738.1,216.6 738.6,217.0 739.1,217.4 739.6,217.8 740.1,218.2 740.6,218.6 741.1,219.0 741.6,219.4 742.2,219.7 742.7,219.9 743.3,220.1 743.8,220.4 744.4,220.6 744.9,220.9 745.4,221.1 746.0,221.4 746.5,221.7 747.1,221.9 747.6,222.2 748.1,222.5 748.6,222.7 749.1,223.0 749.6,223.3 750.1,223.6 750.6,223.9 751.1,224.2 751.6,224.6 752.0,224.9 752.5,225.2 752.9,225.5 753.2,225.8 753.6,226.1 753.9,226.4 754.2,226.7 754.5,227.0 754.8,227.3 755.0,227.5 755.2,227.7" fill="#5BA658" opacity="1"/>
<polygon points="756.7,234.3 756.6,234.1 756.4,233.8 756.2,233.5 756.0,233.2 755.7,232.8 755.3,232.4 755.0,232.0 754.6,231.6 754.3,231.2 753.9,230.8 753.4,230.4 753.0,230.0 752.5,229.5 752.0,229.1 751.6,228.7 751.1,228.3 750.6,227.9 750.1,227.6 749.6,227.2 749.1,226.9 748.6,226.5 748.1,226.2 747.6,225.9 747.1,225.6 746.6,225.3 746.0,225.2 745.5,225.0 745.0,224.9 744.5,224.8 744.1,224.7 743.7,224.6 743.2,224.5 742.8,224.3 742.3,224.2 741.9,224.1 741.4,223.9 741.0,223.8 740.6,223.7 740.1,223.5 739.7,223.4 739.3,223.2 738.9,223.1 738.6,222.9 738.2,222.8 737.8,222.6 737.4,222.4 737.0,222.2 736.5,222.1 736.1,221.9 735.7,221.8 735.3,221.6 734.9,221.4 734.5,221.3 734.1,221.2 733.7,221.0 733.3,220.9 732.9,220.8 732.5,220.7 732.1,220.7 731.7,220.6 731.3,220.5 730.9,220.5 730.5,220.5 730.2,220.5 729.8,220.5 729.5,220.5 729.2,220.6 728.9,220.7 728.6,220.8 728.4,220.9 728.2,220.9 728.0,221.0 728.0,221.0 728.2,221.0 728.4,221.0 728.6,221.0 728.9,221.0 729.2,221.0 729.5,221.1 729.8,221.1 730.1,221.2 730.4,221.3 730.7,221.4 731.0,221.5 731.3,221.7 731.7,221.8 732.0,222.0 732.4,222.2 732.7,222.4 733.0,222.6 733.3,222.8 733.7,223.0 734.0,223.3 734.3,223.5 734.7,223.7 735.0,224.0 735.3,224.2 735.7,224.5 736.0,224.7 736.3,225.0 736.7,225.3 737.0,225.6 737.4,225.8 737.8,226.1 738.2,226.4 738.6,226.7 739.0,226.9 739.4,227.2 739.8,227.5 740.2,227.7 740.7,228.0 741.1,228.2 741.5,228.5 742.0,228.7 742.5,229.0 742.9,229.2 743.3,229.4 743.8,229.7 744.2,229.9 744.5,230.1 745.0,230.2 745.5,230.4 746.0,230.6 746.5,230.7 747.0,230.9 747.5,231.1 748.0,231.3 748.5,231.5 749.0,231.7 749.4,231.9 749.9,232.2 750.4,232.4 750.9,232.7 751.4,233.0 751.9,233.3 752.4,233.5 752.8,233.8 753.1,234.0 753.5,234.3 753.9,234.6 754.2,234.9 754.5,235.1 754.8,235.3 755.1,235.6 755.3,235.7" fill="#5BA658" opacity="1"/>
<polygon points="756.8,240.4 756.7,240.2 756.6,240.0 756.5,239.7 756.3,239.4 756.1,239.1 755.8,238.7 755.6,238.3 755.3,237.9 755.0,237.6 754.7,237.2 754.4,236.8 754.0,236.5 753.6,236.1 753.3,235.7 752.8,235.3 752.4,234.9 752.0,234.6 751.5,234.3 751.1,234.0 750.6,233.7 750.1,233.5 749.7,233.2 749.2,233.0 748.8,232.8 748.3,232.5 747.8,232.4 747.3,232.2 746.8,232.0 746.4,231.9 746.0,231.8 745.6,231.7 745.2,231.7 744.8,231.7 744.3,231.6 743.9,231.6 743.4,231.5 743.0,231.5 742.5,231.4 742.1,231.4 741.6,231.4 741.2,231.4 740.8,231.4 740.4,231.3 739.9,231.3 739.4,231.3 738.9,231.3 738.3,231.4 737.8,231.5 737.2,231.7 736.7,231.9 736.2,232.1 735.7,232.4 735.2,232.7 734.7,233.0 734.2,233.3 733.8,233.6 733.3,234.0 732.9,234.4 732.4,234.9 732.0,235.3 731.6,235.8 731.2,236.2 730.8,236.6 730.5,237.0 730.2,237.5 730.0,237.9 729.7,238.3 729.5,238.7 729.4,239.1 729.2,239.5 729.1,239.8 729.0,240.0 729.0,240.0 729.2,239.8 729.4,239.6 729.6,239.3 729.9,239.0 730.2,238.7 730.6,238.4 730.9,238.1 731.3,237.8 731.7,237.5 732.1,237.2 732.6,236.9 733.0,236.6 733.5,236.3 734.0,236.0 734.5,235.8 734.9,235.6 735.4,235.4 735.8,235.3 736.3,235.1 736.7,235.0 737.2,234.9 737.6,234.8 738.0,234.8 738.3,234.8 738.6,234.8 738.9,234.9 739.1,234.9 739.4,235.0 739.8,235.1 740.1,235.2 740.5,235.3 740.9,235.5 741.3,235.6 741.7,235.7 742.1,235.8 742.4,236.0 742.8,236.1 743.3,236.3 743.7,236.4 744.1,236.6 744.6,236.7 745.0,236.9 745.4,236.9 745.8,236.9 746.2,237.0 746.6,237.0 746.9,237.0 747.3,237.1 747.7,237.2 748.1,237.3 748.5,237.4 748.9,237.5 749.3,237.6 749.7,237.7 750.1,237.9 750.4,238.0 750.8,238.2 751.2,238.4 751.6,238.6 751.9,238.9 752.3,239.1 752.7,239.4 753.0,239.6 753.4,239.9 753.6,240.1 753.9,240.3 754.2,240.6 754.4,240.8 754.6,241.1 754.8,241.3 755.0,241.5 755.2,241.6" fill="#5BA658" opacity="1"/>
<polygon points="758.7,181.7 758.8,181.7 759.0,181.6 759.1,181.5 759.3,181.3 759.6,181.2 759.8,181.0 760.0,180.7 760.3,180.5 760.5,180.2 760.7,180.0 760.9,179.7 761.1,179.4 761.3,179.2 761.5,178.9 761.7,178.6 761.9,178.2 762.0,177.9 762.2,177.6 762.4,177.2 762.5,176.9 762.7,176.5 762.8,176.2 762.9,175.9 763.1,175.6 763.2,175.2 763.4,174.9 763.5,174.5 763.7,174.2 763.8,173.9 763.9,173.6 764.1,173.4 764.2,173.1 764.4,172.8 764.5,172.5 764.5,172.2 764.6,171.8 764.7,171.5 764.8,171.2 764.9,170.9 765.0,170.6 765.1,170.3 765.2,170.0 765.3,169.7 765.5,169.3 765.6,169.0 765.8,168.7 766.0,168.3 766.2,168.0 766.4,167.6 766.6,167.3 766.8,166.9 767.0,166.5 767.3,166.2 767.5,165.8 767.8,165.4 768.0,164.9 768.2,164.5 768.4,164.1 768.7,163.7 768.9,163.3 769.1,162.9 769.3,162.4 769.5,162.0 769.6,161.6 769.7,161.2 769.8,160.8 769.9,160.5 769.9,160.1 770.0,159.7 770.0,159.4 770.0,159.2 770.0,159.0 770.0,159.0 769.9,159.2 769.8,159.4 769.6,159.7 769.5,160.0 769.3,160.3 769.1,160.6 768.9,160.9 768.7,161.1 768.5,161.4 768.2,161.7 767.9,162.0 767.6,162.3 767.2,162.6 766.9,162.9 766.6,163.2 766.2,163.5 765.9,163.8 765.6,164.1 765.2,164.4 764.9,164.7 764.5,164.9 764.2,165.2 763.8,165.6 763.5,165.9 763.2,166.2 762.9,166.4 762.6,166.7 762.3,167.0 762.0,167.4 761.7,167.7 761.4,168.0 761.1,168.4 760.9,168.8 760.6,169.1 760.3,169.5 760.1,169.9 759.9,170.3 759.7,170.7 759.5,171.0 759.4,171.5 759.3,171.9 759.3,172.3 759.2,172.7 759.2,173.1 759.1,173.5 759.1,173.8 759.1,174.2 759.1,174.5 759.0,174.8 759.0,175.2 758.9,175.5 758.9,175.9 758.9,176.2 758.8,176.5 758.8,176.7 758.7,177.0 758.7,177.3 758.6,177.5 758.5,177.8 758.5,178.1 758.4,178.3 758.3,178.6 758.2,178.8 758.1,179.0 758.0,179.2 758.0,179.3 757.8,179.5 757.7,179.7 757.6,179.8 757.5,180.0 757.4,180.1 757.3,180.3" fill="#5BA658" opacity="1"/>
<polygon points="759.8,195.7 759.9,195.6 760.2,195.4 760.5,195.1 760.8,194.9 761.2,194.6 761.6,194.2 761.9,193.9 762.3,193.5 762.7,193.1 763.1,192.7 763.5,192.3 763.9,191.8 764.3,191.3 764.7,190.9 765.1,190.4 765.5,189.9 765.8,189.5 766.2,189.0 766.6,188.5 766.9,188.1 767.2,187.6 767.6,187.2 767.9,186.8 768.2,186.4 768.5,186.0 768.7,185.6 768.9,185.1 769.2,184.7 769.4,184.3 769.6,183.9 769.8,183.5 770.0,183.2 770.3,182.8 770.5,182.4 770.8,182.1 771.1,181.7 771.3,181.3 771.6,181.0 771.9,180.6 772.2,180.3 772.5,180.0 772.8,179.6 773.1,179.3 773.4,179.0 773.7,178.7 774.0,178.4 774.3,178.1 774.6,177.8 774.9,177.5 775.2,177.2 775.5,176.9 775.8,176.6 776.1,176.3 776.3,176.0 776.6,175.7 776.9,175.4 777.1,175.1 777.4,174.8 777.6,174.5 777.8,174.2 778.0,173.9 778.2,173.6 778.4,173.3 778.6,173.0 778.7,172.7 778.8,172.4 778.9,172.1 778.9,171.8 778.9,171.6 779.0,171.3 779.0,171.2 779.0,171.0 779.0,171.0 778.9,171.1 778.8,171.3 778.7,171.5 778.6,171.8 778.5,172.0 778.3,172.2 778.2,172.5 778.0,172.7 777.8,172.9 777.6,173.1 777.3,173.3 777.0,173.5 776.8,173.7 776.5,173.9 776.2,174.1 775.9,174.3 775.6,174.5 775.3,174.7 774.9,174.9 774.6,175.1 774.2,175.3 773.9,175.5 773.5,175.7 773.1,175.9 772.8,176.1 772.4,176.3 772.0,176.6 771.7,176.8 771.3,177.0 770.9,177.2 770.4,177.5 770.0,177.8 769.6,178.1 769.2,178.4 768.8,178.7 768.4,179.0 768.0,179.3 767.5,179.7 767.1,180.0 766.7,180.4 766.3,180.8 766.0,181.2 765.6,181.6 765.2,182.0 764.9,182.4 764.5,182.8 764.2,183.2 763.9,183.7 763.7,184.2 763.4,184.7 763.2,185.3 763.0,185.8 762.7,186.3 762.5,186.8 762.3,187.3 762.1,187.8 761.8,188.3 761.6,188.8 761.3,189.3 761.1,189.9 760.8,190.4 760.5,190.9 760.3,191.3 760.1,191.7 759.8,192.1 759.6,192.5 759.3,192.9 759.1,193.2 758.8,193.5 758.6,193.8 758.4,194.1 758.2,194.3" fill="#5BA658" opacity="1"/>
<polygon points="759.7,209.8 759.9,209.6 760.2,209.5 760.5,209.2 760.9,209.0 761.3,208.7 761.7,208.4 762.2,208.0 762.6,207.6 763.1,207.3 763.5,206.8 764.0,206.4 764.5,206.0 765.0,205.5 765.5,205.1 765.9,204.6 766.4,204.2 766.8,203.7 767.3,203.2 767.8,202.8 768.2,202.3 768.6,201.9 769.0,201.4 769.5,201.0 769.9,200.6 770.3,200.3 770.7,199.9 771.2,199.5 771.5,199.0 771.8,198.6 772.1,198.2 772.5,197.8 772.8,197.4 773.2,197.0 773.6,196.6 774.0,196.2 774.4,195.8 774.8,195.4 775.2,195.0 775.6,194.7 776.0,194.3 776.4,194.0 776.8,193.7 777.2,193.4 777.6,193.1 778.1,192.9 778.5,192.6 779.0,192.3 779.4,192.1 779.9,191.9 780.3,191.6 780.8,191.4 781.2,191.2 781.7,191.0 782.2,190.8 782.7,190.6 783.2,190.4 783.6,190.2 784.1,190.0 784.6,189.8 785.1,189.6 785.5,189.4 786.0,189.2 786.4,189.0 786.8,188.8 787.2,188.6 787.5,188.3 787.9,188.1 788.2,187.8 788.4,187.6 788.7,187.3 788.8,187.1 789.0,187.0 789.0,187.0 788.8,187.1 788.6,187.2 788.3,187.3 788.0,187.5 787.6,187.7 787.2,187.8 786.9,188.0 786.5,188.1 786.1,188.2 785.7,188.3 785.2,188.4 784.7,188.4 784.2,188.5 783.7,188.6 783.2,188.7 782.7,188.8 782.2,188.9 781.7,188.9 781.2,189.0 780.6,189.1 780.1,189.2 779.5,189.3 779.0,189.5 778.4,189.6 777.9,189.8 777.3,190.0 776.8,190.1 776.3,190.3 775.7,190.5 775.2,190.8 774.6,191.0 774.0,191.3 773.5,191.6 772.9,191.9 772.4,192.2 771.8,192.5 771.3,192.9 770.8,193.2 770.3,193.6 769.7,194.0 769.2,194.4 768.7,194.8 768.2,195.2 767.8,195.6 767.3,196.0 766.9,196.5 766.6,197.0 766.2,197.5 765.9,198.0 765.5,198.5 765.1,199.1 764.8,199.6 764.5,200.2 764.1,200.7 763.8,201.2 763.5,201.7 763.1,202.2 762.7,202.7 762.4,203.3 762.0,203.8 761.6,204.3 761.3,204.8 761.0,205.3 760.6,205.7 760.3,206.1 760.0,206.4 759.7,206.8 759.3,207.2 759.0,207.5 758.8,207.8 758.5,208.0 758.3,208.2" fill="#5BA658" opacity="1"/>
<polygon points="759.6,219.9 759.8,219.7 760.2,219.6 760.6,219.4 761.0,219.1 761.5,218.8 762.0,218.6 762.6,218.2 763.1,217.9 763.6,217.5 764.2,217.2 764.8,216.7 765.4,216.3 766.0,215.9 766.6,215.4 767.2,215.0 767.7,214.5 768.3,214.0 768.8,213.5 769.4,213.1 769.9,212.6 770.4,212.1 771.0,211.6 771.5,211.1 771.9,210.7 772.4,210.2 772.9,209.7 773.3,209.2 773.6,208.6 773.9,208.1 774.2,207.6 774.5,207.2 774.8,206.7 775.2,206.2 775.5,205.7 775.9,205.2 776.2,204.8 776.6,204.3 776.9,203.9 777.2,203.4 777.6,203.0 777.9,202.6 778.3,202.2 778.7,201.8 779.1,201.4 779.5,201.1 779.8,200.7 780.2,200.3 780.7,200.0 781.1,199.6 781.5,199.3 781.9,198.9 782.3,198.6 782.8,198.2 783.2,197.9 783.7,197.6 784.1,197.2 784.5,196.9 785.0,196.5 785.4,196.2 785.8,195.8 786.2,195.5 786.6,195.1 787.0,194.8 787.3,194.5 787.6,194.1 787.9,193.8 788.2,193.4 788.4,193.1 788.6,192.7 788.7,192.4 788.9,192.2 789.0,192.0 789.0,192.0 788.8,192.1 788.6,192.3 788.4,192.6 788.1,192.8 787.8,193.1 787.5,193.4 787.2,193.6 786.8,193.9 786.4,194.1 786.0,194.3 785.6,194.6 785.1,194.8 784.7,195.1 784.2,195.3 783.7,195.5 783.2,195.8 782.7,196.0 782.2,196.2 781.7,196.5 781.2,196.7 780.7,197.0 780.2,197.2 779.6,197.5 779.1,197.8 778.6,198.1 778.1,198.4 777.6,198.7 777.1,199.0 776.6,199.3 776.1,199.7 775.6,200.0 775.2,200.4 774.7,200.8 774.2,201.2 773.7,201.6 773.2,202.1 772.8,202.5 772.3,202.9 771.9,203.3 771.4,203.8 770.9,204.2 770.5,204.7 770.1,205.1 769.6,205.6 769.2,206.0 768.8,206.5 768.5,207.0 768.2,207.5 767.8,208.0 767.4,208.5 767.0,209.1 766.6,209.6 766.2,210.2 765.8,210.7 765.4,211.2 765.0,211.7 764.6,212.2 764.1,212.8 763.6,213.3 763.2,213.8 762.7,214.3 762.2,214.8 761.8,215.3 761.3,215.7 760.9,216.1 760.5,216.4 760.1,216.8 759.7,217.1 759.3,217.4 759.0,217.7 758.7,217.9 758.4,218.1" fill="#5BA658" opacity="1"/>
<polygon points="759.6,235.8 759.9,235.7 760.2,235.5 760.6,235.3 761.0,235.0 761.5,234.7 762.0,234.4 762.6,234.1 763.1,233.7 763.6,233.3 764.2,232.9 764.7,232.5 765.3,232.0 765.9,231.5 766.4,231.1 767.0,230.6 767.6,230.2 768.1,229.8 768.6,229.3 769.2,228.9 769.7,228.4 770.2,228.0 770.7,227.6 771.2,227.2 771.7,226.9 772.2,226.5 772.6,226.2 773.1,225.9 773.5,225.5 773.8,225.1 774.2,224.8 774.6,224.4 775.0,224.1 775.4,223.8 775.8,223.5 776.2,223.1 776.6,222.9 777.1,222.6 777.5,222.3 777.9,222.0 778.4,221.8 778.8,221.6 779.3,221.4 779.7,221.1 780.2,221.0 780.7,220.8 781.2,220.6 781.7,220.4 782.2,220.3 782.7,220.1 783.3,220.0 783.9,219.9 784.4,219.8 785.1,219.7 785.7,219.5 786.3,219.4 786.9,219.3 787.5,219.2 788.1,219.1 788.7,219.0 789.4,218.9 790.0,218.8 790.6,218.7 791.2,218.5 791.7,218.4 792.3,218.2 792.8,218.0 793.2,217.8 793.7,217.6 794.1,217.4 794.5,217.3 794.8,217.1 795.0,217.0 795.0,217.0 794.7,217.0 794.4,217.1 794.0,217.2 793.6,217.3 793.1,217.4 792.6,217.4 792.1,217.5 791.6,217.5 791.1,217.5 790.5,217.5 789.9,217.5 789.3,217.5 788.6,217.5 788.0,217.4 787.4,217.4 786.7,217.4 786.1,217.4 785.5,217.4 784.9,217.3 784.2,217.3 783.6,217.3 783.0,217.3 782.3,217.4 781.7,217.4 781.1,217.5 780.5,217.5 779.9,217.6 779.3,217.7 778.7,217.8 778.1,217.9 777.5,218.1 777.0,218.3 776.4,218.5 775.8,218.7 775.2,218.9 774.6,219.1 774.0,219.4 773.5,219.6 772.9,219.9 772.4,220.2 771.8,220.5 771.3,220.9 770.8,221.2 770.2,221.5 769.7,221.9 769.3,222.3 768.9,222.8 768.4,223.3 768.0,223.8 767.5,224.3 767.1,224.8 766.6,225.3 766.2,225.9 765.7,226.4 765.3,226.9 764.9,227.4 764.4,228.0 763.9,228.5 763.5,229.1 763.0,229.6 762.5,230.1 762.1,230.6 761.7,231.1 761.2,231.6 760.9,232.0 760.4,232.3 760.0,232.7 759.6,233.1 759.3,233.4 758.9,233.7 758.6,234.0 758.4,234.2" fill="#5BA658" opacity="1"/>
<polygon points="758.0,247.7 758.0,247.5 758.0,247.3 758.0,247.0 757.9,246.6 757.9,246.2 757.8,245.8 757.8,245.3 757.7,244.8 757.6,244.4 757.4,243.9 757.3,243.5 757.2,242.9 757.0,242.4 756.8,241.9 756.6,241.4 756.4,240.9 756.1,240.4 755.8,240.1 755.4,239.7 754.9,239.4 754.5,239.2 754.1,238.9 753.7,238.6 753.2,238.4 752.8,238.2 752.4,238.0 751.9,237.9 751.5,237.8 751.2,237.7 750.8,237.6 750.5,237.6 750.2,237.5 749.8,237.4 749.5,237.3 749.1,237.2 748.8,237.2 748.5,237.1 748.2,237.1 747.9,237.0 747.6,236.9 747.4,236.8 747.2,236.7 746.9,236.6 746.7,236.4 746.5,236.3 746.3,236.2 746.1,236.1 746.0,236.0 746.0,236.0 746.1,236.1 746.1,236.3 746.2,236.5 746.3,236.8 746.4,237.1 746.6,237.3 746.8,237.6 747.0,237.9 747.2,238.1 747.4,238.3 747.7,238.6 748.0,238.8 748.2,239.0 748.5,239.3 748.8,239.5 749.0,239.7 749.3,239.9 749.6,240.2 749.9,240.4 750.1,240.6 750.4,240.8 750.6,241.0 750.7,241.2 750.9,241.5 751.0,241.7 751.2,242.0 751.4,242.3 751.6,242.6 751.8,243.0 751.9,243.3 752.1,243.6 752.4,243.8 752.7,244.1 753.0,244.3 753.3,244.6 753.6,244.9 753.9,245.3 754.2,245.6 754.4,245.9 754.7,246.2 754.9,246.5 755.1,246.7 755.3,247.0 755.5,247.3 755.6,247.6 755.8,247.9 755.9,248.1 756.0,248.3" fill="#5BA658" opacity="1"/>
<polygon points="758.7,248.8 758.9,248.7 759.1,248.5 759.4,248.4 759.7,248.2 760.1,248.0 760.5,247.7 760.8,247.4 761.2,247.1 761.6,246.8 762.0,246.5 762.4,246.2 762.8,245.8 763.2,245.4 763.6,245.1 763.9,244.7 764.3,244.4 764.6,244.0 764.8,243.5 765.0,243.1 765.1,242.7 765.3,242.2 765.4,241.9 765.5,241.5 765.6,241.2 765.8,240.8 765.9,240.5 766.0,240.2 766.2,239.9 766.3,239.6 766.5,239.3 766.6,239.0 766.8,238.8 766.9,238.5 767.1,238.2 767.3,238.0 767.5,237.7 767.8,237.5 768.0,237.3 768.2,237.1 768.4,236.9 768.6,236.7 768.8,236.6 769.0,236.5 769.3,236.4 769.5,236.3 769.7,236.2 769.9,236.1 770.0,236.0 770.0,236.0 769.9,236.0 769.7,235.9 769.4,235.9 769.2,235.9 768.9,235.8 768.6,235.8 768.3,235.8 767.9,235.9 767.6,236.0 767.3,236.0 766.9,236.1 766.6,236.3 766.2,236.4 765.9,236.6 765.5,236.7 765.1,236.9 764.8,237.1 764.5,237.4 764.1,237.6 763.8,237.9 763.5,238.1 763.2,238.4 762.8,238.7 762.5,238.9 762.2,239.3 761.8,239.6 761.5,240.0 761.2,240.3 760.9,240.6 760.6,240.9 760.3,241.2 760.1,241.6 760.0,242.0 759.8,242.5 759.6,242.9 759.4,243.4 759.2,243.8 759.0,244.3 758.9,244.6 758.7,245.0 758.5,245.3 758.4,245.6 758.2,246.0 758.0,246.3 757.8,246.6 757.6,246.8 757.4,247.1 757.3,247.2" fill="#5BA658" opacity="1"/>
<ellipse cx="757" cy="253" rx="3.2" ry="3" fill="#5BA658"/>
<polyline points="757.0,256.0 756.6,256.8 756.2,257.8 755.6,258.9 755.0,260.2 754.3,261.7 753.6,263.1 752.8,264.6 752.0,266.0 751.1,267.4 750.2,269.0 749.1,270.6 748.1,272.2 747.0,273.9 745.9,275.4 744.9,276.8 744.0,278.0 743.1,279.1 742.2,280.1 741.3,281.0 740.5,281.8 739.7,282.5 739.0,283.1 738.4,283.6 738.0,284.0" fill="none" stroke="#D4B596" stroke-width="0.9" stroke-linecap="round" stroke-linejoin="round" opacity="1"/>
<polyline points="757.0,256.0 756.8,257.1 756.5,258.6 756.1,260.3 755.8,262.2 755.3,264.3 754.9,266.3 754.4,268.2 754.0,270.0 753.5,271.6 753.0,273.2 752.5,274.8 751.9,276.4 751.4,277.9 750.9,279.3 750.4,280.7 750.0,282.0 749.6,283.2 749.3,284.5 749.0,285.6 748.8,286.8 748.5,287.8 748.3,288.7 748.1,289.4 748.0,290.0" fill="none" stroke="#D4B596" stroke-width="0.9" stroke-linecap="round" stroke-linejoin="round" opacity="1"/>
<polyline points="757.0,256.0 757.1,257.3 757.2,258.9 757.4,261.0 757.6,263.2 757.8,265.5 757.9,267.8 758.0,270.0 758.0,272.0 757.9,273.8 757.6,275.6 757.3,277.3 756.9,278.9 756.6,280.5 756.3,282.1 756.1,283.6 756.0,285.0 756.1,286.4 756.3,287.7 756.5,289.1 756.9,290.3 757.2,291.5 757.5,292.5 757.8,293.3 758.0,294.0" fill="none" stroke="#D4B596" stroke-width="0.9" stroke-linecap="round" stroke-linejoin="round" opacity="1"/>
<polyline points="757.0,256.0 757.4,256.9 757.9,258.2 758.5,259.7 759.1,261.4 759.8,263.1 760.6,264.9 761.3,266.5 762.0,268.0 762.7,269.4 763.4,270.7 764.2,272.0 764.9,273.3 765.7,274.6 766.5,275.8 767.2,276.9 768.0,278.0 768.8,279.1 769.6,280.1 770.5,281.2 771.4,282.1 772.2,283.0 772.9,283.8 773.5,284.5 774.0,285.0" fill="none" stroke="#D4B596" stroke-width="0.9" stroke-linecap="round" stroke-linejoin="round" opacity="1"/>
<polyline points="757.0,256.0 757.5,256.6 758.2,257.5 759.1,258.5 760.0,259.6 761.0,260.8 762.0,262.0 763.0,263.0 764.0,264.0 765.0,264.8 766.0,265.6 767.1,266.4 768.1,267.1 769.2,267.8 770.2,268.5 771.1,269.3 772.0,270.0 772.8,270.8 773.6,271.6 774.3,272.5 775.0,273.4 775.6,274.2 776.2,274.9 776.6,275.5 777.0,276.0" fill="none" stroke="#D4B596" stroke-width="0.9" stroke-linecap="round" stroke-linejoin="round" opacity="1"/>
<polyline points="757.0,256.0 756.5,256.4 755.8,257.0 754.9,257.7 754.0,258.5 753.0,259.3 752.0,260.2 751.0,261.1 750.0,262.0 749.0,263.0 747.9,264.0 746.7,265.2 745.6,266.4 744.5,267.5 743.5,268.5 742.6,269.4 742.0,270.0" fill="none" stroke="#D4B596" stroke-width="0.9" stroke-linecap="round" stroke-linejoin="round" opacity="1"/>
<polyline points="752.0,266.0 751.6,266.8 751.0,267.9 750.4,269.1 749.6,270.6 748.9,272.0 748.2,273.5 747.5,274.8 747.0,276.0 746.6,277.1 746.2,278.1 745.9,279.2 745.7,280.1 745.5,281.0 745.3,281.8 745.1,282.5 745.0,283.0" fill="none" stroke="#D4B596" stroke-width="0.9" stroke-linecap="round" stroke-linejoin="round" opacity="1"/>
<polyline points="762.0,268.0 762.0,268.9 762.0,270.2 761.9,271.7 761.9,273.4 761.9,275.1 761.9,276.9 761.9,278.5 762.0,280.0 762.2,281.4 762.4,282.9 762.7,284.3 763.0,285.8 763.3,287.1 763.6,288.2 763.8,289.2 764.0,290.0" fill="none" stroke="#D4B596" stroke-width="0.9" stroke-linecap="round" stroke-linejoin="round" opacity="1"/>
<polyline points="744.0,278.0 743.7,277.8 743.2,277.6 742.6,277.3 742.0,277.0 741.4,276.7 740.8,276.4 740.3,276.2 740.0,276.0" fill="none" stroke="#D4B596" stroke-width="0.9" stroke-linecap="round" stroke-linejoin="round" opacity="1"/>
<polyline points="768.0,278.0 768.3,278.5 768.8,279.2 769.4,280.1 770.0,281.0 770.6,281.9 771.2,282.8 771.7,283.5 772.0,284.0" fill="none" stroke="#D4B596" stroke-width="0.9" stroke-linecap="round" stroke-linejoin="round" opacity="1"/>
<polyline points="754.0,270.0 753.3,270.2 752.4,270.4 751.2,270.7 750.0,271.0 748.8,271.3 747.6,271.6 746.7,271.8 746.0,272.0" fill="none" stroke="#D4B596" stroke-width="0.9" stroke-linecap="round" stroke-linejoin="round" opacity="1"/>
<polyline points="758.0,272.0 758.7,272.3 759.6,272.8 760.8,273.4 762.0,274.0 763.2,274.6 764.4,275.2 765.3,275.7 766.0,276.0" fill="none" stroke="#D4B596" stroke-width="0.9" stroke-linecap="round" stroke-linejoin="round" opacity="1"/>
<polyline points="750.0,282.0 750.3,282.5 750.8,283.2 751.4,284.1 752.0,285.0 752.6,285.9 753.2,286.8 753.7,287.5 754.0,288.0" fill="none" stroke="#D4B596" stroke-width="0.9" stroke-linecap="round" stroke-linejoin="round" opacity="1"/>
<path d="M756,140.5 C760,144 760.5,152 760.3,160 C760,166 758,169 756,169 C754,169 752,166 751.7,160 C751.5,152 752,144 756,140.5Z" fill="#A65E2C"/>
<circle cx="754.2" cy="146.0" r="1.1" fill="#8E4C22"/>
<circle cx="757.6" cy="148.9" r="1.1" fill="#8E4C22"/>
<circle cx="754.2" cy="151.8" r="1.1" fill="#8E4C22"/>
<circle cx="757.6" cy="154.7" r="1.1" fill="#8E4C22"/>
<circle cx="754.2" cy="157.6" r="1.1" fill="#8E4C22"/>
<circle cx="757.6" cy="160.5" r="1.1" fill="#8E4C22"/>
<circle cx="754.2" cy="163.4" r="1.1" fill="#8E4C22"/>
<circle cx="757.6" cy="166.3" r="1.1" fill="#8E4C22"/>
<polygon points="948.6,168.6 948.1,168.3 947.3,167.9 946.4,167.3 945.2,166.7 943.9,166.1 942.4,165.7 940.7,165.7 939.0,166.3 937.6,167.3 936.3,168.6 935.0,170.1 933.9,171.9 933.0,173.8 932.1,175.8 931.3,177.7 930.7,179.5 930.3,181.4 930.0,183.5 929.9,185.6 929.9,187.7 929.9,189.7 929.9,191.4 930.0,192.9 930.0,194.0 930.0,194.0 930.2,192.9 930.5,191.5 930.8,189.7 931.1,187.8 931.6,185.8 932.0,183.9 932.6,182.1 933.3,180.5 934.1,178.9 935.1,177.3 936.2,175.7 937.3,174.1 938.5,172.7 939.5,171.4 940.3,170.3 941.0,169.7 941.4,169.5 942.0,169.4 942.8,169.5 943.8,169.8 944.8,170.3 945.8,170.7 946.7,171.2 947.4,171.4" fill="#B3B05E" opacity="1"/>
<polygon points="948.4,183.3 947.9,182.2 947.3,180.5 946.5,178.4 945.6,176.2 944.6,174.1 943.4,172.3 942.0,170.9 939.7,170.3 937.9,171.7 937.3,173.5 936.9,175.6 936.6,178.0 936.4,180.5 936.2,182.8 936.1,184.7 936.0,186.0 936.0,186.0 936.5,184.8 937.1,183.0 937.8,180.8 938.5,178.5 939.3,176.3 940.1,174.5 940.7,173.5 940.3,173.7 939.6,173.8 940.0,174.6 940.8,176.2 941.9,178.0 943.0,180.0 944.1,182.0 945.0,183.6 945.6,184.7" fill="#B3B05E" opacity="1"/>
<polygon points="950.2,166.9 950.9,166.1 951.7,165.0 952.7,163.7 953.7,162.4 954.7,161.2 955.6,160.4 956.0,160.1 955.4,160.0 955.4,159.9 956.1,160.7 957.0,162.1 958.0,163.8 959.0,165.7 960.0,167.5 960.8,169.1 961.5,170.2 962.1,171.0 962.6,171.6 963.0,172.0 963.3,172.3 963.5,172.6 963.7,172.7 963.8,172.9 964.0,173.0 964.0,173.0 963.9,172.8 963.8,172.6 963.7,172.4 963.5,172.2 963.3,171.8 963.1,171.3 962.8,170.6 962.5,169.8 962.1,168.5 961.6,166.8 961.1,164.9 960.6,162.8 960.0,160.7 959.2,158.9 958.3,157.3 956.6,156.0 954.3,156.1 952.7,157.2 951.6,158.6 950.6,160.1 949.6,161.7 948.9,163.2 948.2,164.4 947.8,165.1" fill="#B3B05E" opacity="1"/>
<polygon points="951.4,184.7 952.0,183.6 952.9,181.9 953.9,180.0 955.0,178.0 956.1,176.1 957.2,174.7 957.9,174.1 957.9,174.1 958.1,174.3 958.9,175.1 960.1,176.4 961.5,178.1 962.9,180.1 964.2,182.3 965.5,184.5 966.7,186.6 967.8,188.8 968.9,191.4 970.0,194.2 971.0,197.1 971.9,199.8 972.7,202.3 973.4,204.5 974.0,206.0 974.0,206.0 973.7,204.4 973.3,202.2 972.8,199.6 972.3,196.7 971.6,193.7 970.9,190.7 970.1,187.9 969.3,185.4 968.3,183.1 967.2,180.7 966.1,178.2 964.8,175.9 963.5,173.8 962.0,172.0 960.3,170.7 958.1,169.9 955.8,170.6 954.2,172.2 952.9,174.1 951.8,176.3 950.8,178.5 949.9,180.5 949.2,182.2 948.6,183.3" fill="#B3B05E" opacity="1"/>
<polygon points="950.2,205.0 949.5,204.2 948.6,203.0 947.6,201.5 946.4,200.0 945.1,198.3 943.8,196.8 942.5,195.4 941.3,194.3 940.2,193.5 939.1,192.7 937.9,192.1 936.6,191.5 935.2,191.1 933.6,191.1 932.1,191.8 930.8,192.9 929.7,194.7 928.8,197.0 928.0,199.7 927.2,202.6 926.5,205.5 925.9,208.2 925.4,210.4 925.0,212.0 925.0,212.0 925.7,210.5 926.6,208.4 927.7,205.9 928.8,203.2 930.0,200.5 931.2,198.0 932.3,196.1 933.2,195.1 933.8,194.7 934.2,194.7 934.6,194.8 935.1,195.0 935.8,195.5 936.7,196.2 937.6,197.0 938.7,197.7 939.7,198.5 940.9,199.6 942.3,200.9 943.6,202.3 944.9,203.7 946.1,205.1 947.1,206.2 947.8,207.0" fill="#CBB86C" opacity="1"/>
<polygon points="951.3,218.9 952.2,217.7 953.3,216.0 954.7,214.1 956.3,212.0 957.8,209.9 959.2,208.0 960.3,206.4 961.1,205.4 961.7,205.0 962.1,204.8 962.4,204.7 962.8,204.8 963.3,205.0 963.8,205.4 964.4,206.0 965.0,206.6 965.6,207.4 966.2,208.7 966.7,210.1 967.3,211.8 967.8,213.4 968.3,214.9 968.7,216.1 969.0,217.0 969.0,217.0 968.9,216.1 968.8,214.8 968.6,213.2 968.5,211.5 968.2,209.8 967.9,208.1 967.5,206.6 967.0,205.4 966.4,204.4 965.8,203.6 965.0,202.8 964.1,202.1 962.9,201.7 961.6,201.6 960.3,201.9 958.9,202.6 957.4,203.8 955.9,205.4 954.4,207.5 953.0,209.8 951.6,212.1 950.4,214.2 949.4,215.9 948.7,217.1" fill="#CBB86C" opacity="1"/>
<polygon points="948.9,226.8 948.1,226.1 947.0,225.1 945.7,223.8 944.1,222.3 942.3,221.0 940.4,219.7 938.1,219.1 935.8,219.1 933.5,219.9 931.3,221.2 929.2,222.9 927.1,224.8 925.2,226.7 923.5,228.5 922.1,230.0 921.0,231.0 921.0,231.0 922.3,230.3 924.0,229.1 926.1,227.8 928.4,226.3 930.7,225.0 932.9,223.9 934.8,223.1 936.2,222.9 937.3,223.2 938.6,223.7 940.2,224.4 941.8,225.4 943.4,226.5 944.8,227.6 946.1,228.6 947.1,229.2" fill="#CBB86C" opacity="1"/>
<polygon points="950.9,239.2 952.1,238.5 953.5,237.4 955.3,236.1 957.1,234.7 959.1,233.5 961.0,232.4 962.7,231.4 964.2,230.8 966.0,230.6 968.1,230.7 970.6,231.2 973.1,231.8 975.5,232.5 977.7,233.1 979.6,233.7 981.0,234.0 981.0,234.0 979.7,233.3 978.0,232.4 976.0,231.3 973.7,230.1 971.2,229.0 968.7,228.0 966.2,227.4 963.8,227.2 961.3,227.7 958.9,228.6 956.7,230.0 954.7,231.6 952.9,233.3 951.3,234.7 950.1,235.9 949.1,236.8" fill="#CBB86C" opacity="1"/>
<polygon points="948.7,242.6 947.7,242.0 946.3,241.1 944.6,240.0 942.7,238.9 940.7,237.7 938.5,236.8 936.2,236.4 934.0,236.3 931.9,236.7 929.9,237.6 928.0,238.7 926.2,239.9 924.6,241.2 923.1,242.3 921.9,243.3 921.0,244.0 921.0,244.0 922.1,243.6 923.5,243.0 925.2,242.2 927.0,241.3 928.9,240.6 930.8,240.0 932.6,239.7 934.0,239.7 935.4,240.1 937.1,240.8 938.9,241.6 940.9,242.4 942.8,243.3 944.6,244.1 946.1,244.9 947.3,245.4" fill="#CBB86C" opacity="1"/>
<polygon points="950.9,259.2 952.4,258.2 954.4,256.8 956.8,255.1 959.4,253.3 962.0,251.5 964.3,249.7 966.5,248.3 968.3,247.5 969.9,247.2 971.8,247.4 973.8,248.0 975.8,248.9 977.7,249.8 979.4,250.8 980.9,251.5 982.0,252.0 982.0,252.0 981.0,251.3 979.8,250.2 978.2,249.0 976.5,247.6 974.5,246.4 972.4,245.3 970.2,244.6 967.7,244.5 965.2,245.2 962.4,246.4 959.5,247.9 956.9,250.0 954.4,252.1 952.2,254.1 950.4,255.7 949.1,256.8" fill="#CBB86C" opacity="1"/>
<polygon points="948.8,260.7 947.9,260.1 946.8,259.1 945.3,258.0 943.7,256.7 941.9,255.5 939.9,254.5 937.8,254.1 935.7,254.3 933.8,255.2 932.2,256.5 930.8,258.2 929.5,260.0 928.4,261.9 927.4,263.6 926.6,265.0 926.0,266.0 926.0,266.0 926.9,265.2 928.1,264.1 929.4,262.7 931.0,261.2 932.5,259.8 934.0,258.7 935.4,258.0 936.3,257.7 937.2,257.9 938.4,258.5 939.9,259.2 941.6,260.0 943.3,261.0 944.8,262.0 946.2,262.8 947.2,263.3" fill="#CBB86C" opacity="1"/>
<polygon points="950.5,275.4 951.2,275.2 952.1,274.9 953.1,274.6 954.1,274.2 955.0,274.0 956.0,273.9 956.7,274.0 957.3,274.0 958.3,274.2 959.6,274.8 961.2,275.7 962.8,276.7 964.4,277.7 965.8,278.7 967.1,279.5 968.0,280.0 968.0,280.0 967.4,279.2 966.5,278.0 965.4,276.6 964.2,275.1 962.9,273.6 961.5,272.2 960.1,271.0 958.7,270.0 957.0,269.6 955.4,269.8 954.0,270.2 952.7,270.8 951.6,271.4 950.7,271.9 950.0,272.3 949.5,272.6" fill="#CBB86C" opacity="1"/>
<polygon points="948.0,278.5 947.2,278.3 946.0,278.1 944.5,277.8 943.0,278.3 941.5,278.8 940.0,279.2 938.8,279.7 938.0,280.0 938.0,280.0 938.8,280.3 940.0,280.8 941.5,281.2 943.0,281.7 944.5,282.2 946.0,281.9 947.2,281.7 948.0,281.5" fill="#CBB86C" opacity="1"/>
<polyline points="948.0,160.0 948.0,164.6 948.1,170.7 948.2,177.9 948.2,186.0 948.3,194.6 948.4,203.3 948.4,211.9 948.5,220.0 948.6,228.2 948.6,237.2 948.7,246.5 948.8,255.8 948.8,264.5 948.9,272.4 949.0,279.0 949.0,284.0" fill="none" stroke="#C8B25C" stroke-width="2.8" stroke-linecap="round" stroke-linejoin="round" opacity="1"/>
<path d="M948,160 Q941.5,154.0 937,148" fill="none" stroke="#DDAE58" stroke-width="0.9" opacity="0.9"/>
<line x1="943.0" y1="154.6" x2="941.5" y2="153.1" stroke="#E3B862" stroke-width="0.6" opacity="0.8"/>
<line x1="940.3" y1="151.6" x2="938.8" y2="150.1" stroke="#E3B862" stroke-width="0.6" opacity="0.8"/>
<path d="M948,160 Q942.5,151.5 939,143" fill="none" stroke="#DDAE58" stroke-width="0.9" opacity="0.9"/>
<line x1="944.0" y1="152.3" x2="942.5" y2="150.8" stroke="#E3B862" stroke-width="0.6" opacity="0.8"/>
<line x1="941.7" y1="148.1" x2="940.2" y2="146.6" stroke="#E3B862" stroke-width="0.6" opacity="0.8"/>
<path d="M948,160 Q944.0,149.5 942,139" fill="none" stroke="#DDAE58" stroke-width="0.9" opacity="0.9"/>
<line x1="945.3" y1="150.6" x2="943.8" y2="149.1" stroke="#E3B862" stroke-width="0.6" opacity="0.8"/>
<line x1="943.8" y1="145.3" x2="942.3" y2="143.8" stroke="#E3B862" stroke-width="0.6" opacity="0.8"/>
<path d="M948,160 Q945.5,148.5 945,137" fill="none" stroke="#DDAE58" stroke-width="0.9" opacity="0.9"/>
<line x1="946.6" y1="149.7" x2="945.1" y2="148.2" stroke="#E3B862" stroke-width="0.6" opacity="0.8"/>
<line x1="945.9" y1="143.9" x2="944.4" y2="142.4" stroke="#E3B862" stroke-width="0.6" opacity="0.8"/>
<path d="M948,160 Q946.5,147.5 947,135" fill="none" stroke="#DDAE58" stroke-width="0.9" opacity="0.9"/>
<line x1="947.5" y1="148.8" x2="946.0" y2="147.2" stroke="#E3B862" stroke-width="0.6" opacity="0.8"/>
<line x1="947.3" y1="142.5" x2="945.8" y2="141.0" stroke="#E3B862" stroke-width="0.6" opacity="0.8"/>
<path d="M948,160 Q950.0,149.0 950,138" fill="none" stroke="#DDAE58" stroke-width="0.9" opacity="0.9"/>
<line x1="948.9" y1="150.1" x2="950.4" y2="148.6" stroke="#E3B862" stroke-width="0.6" opacity="0.8"/>
<line x1="949.4" y1="144.6" x2="950.9" y2="143.1" stroke="#E3B862" stroke-width="0.6" opacity="0.8"/>
<path d="M948,160 Q951.5,150.0 953,140" fill="none" stroke="#DDAE58" stroke-width="0.9" opacity="0.9"/>
<line x1="950.2" y1="151.0" x2="951.8" y2="149.5" stroke="#E3B862" stroke-width="0.6" opacity="0.8"/>
<line x1="951.5" y1="146.0" x2="953.0" y2="144.5" stroke="#E3B862" stroke-width="0.6" opacity="0.8"/>
<path d="M948,160 Q953.0,152.0 956,144" fill="none" stroke="#DDAE58" stroke-width="0.9" opacity="0.9"/>
<line x1="951.6" y1="152.8" x2="953.1" y2="151.3" stroke="#E3B862" stroke-width="0.6" opacity="0.8"/>
<line x1="953.6" y1="148.8" x2="955.1" y2="147.3" stroke="#E3B862" stroke-width="0.6" opacity="0.8"/>
<path d="M948,160 Q954.0,154.0 958,148" fill="none" stroke="#DDAE58" stroke-width="0.9" opacity="0.9"/>
<line x1="952.5" y1="154.6" x2="954.0" y2="153.1" stroke="#E3B862" stroke-width="0.6" opacity="0.8"/>
<line x1="955.0" y1="151.6" x2="956.5" y2="150.1" stroke="#E3B862" stroke-width="0.6" opacity="0.8"/>
<path d="M948,160 Q955.0,155.5 960,151" fill="none" stroke="#DDAE58" stroke-width="0.9" opacity="0.9"/>
<line x1="953.4" y1="155.9" x2="954.9" y2="154.4" stroke="#E3B862" stroke-width="0.6" opacity="0.8"/>
<line x1="956.4" y1="153.7" x2="957.9" y2="152.2" stroke="#E3B862" stroke-width="0.6" opacity="0.8"/>
<path d="M948,160 Q941.0,156.5 936,153" fill="none" stroke="#DDAE58" stroke-width="0.9" opacity="0.9"/>
<line x1="942.6" y1="156.8" x2="941.1" y2="155.3" stroke="#E3B862" stroke-width="0.6" opacity="0.8"/>
<line x1="939.6" y1="155.1" x2="938.1" y2="153.6" stroke="#E3B862" stroke-width="0.6" opacity="0.8"/>
<path d="M948,160 Q942.5,158.5 939,157" fill="none" stroke="#DDAE58" stroke-width="0.9" opacity="0.9"/>
<line x1="944.0" y1="158.7" x2="942.5" y2="157.2" stroke="#E3B862" stroke-width="0.6" opacity="0.8"/>
<line x1="941.7" y1="157.9" x2="940.2" y2="156.4" stroke="#E3B862" stroke-width="0.6" opacity="0.8"/>
<path d="M948,160 Q953.5,158.0 957,156" fill="none" stroke="#DDAE58" stroke-width="0.9" opacity="0.9"/>
<line x1="952.0" y1="158.2" x2="953.5" y2="156.7" stroke="#E3B862" stroke-width="0.6" opacity="0.8"/>
<line x1="954.3" y1="157.2" x2="955.8" y2="155.7" stroke="#E3B862" stroke-width="0.6" opacity="0.8"/>
<path d="M948,160 Q945.0,151.0 944,142" fill="none" stroke="#DDAE58" stroke-width="0.9" opacity="0.9"/>
<line x1="946.2" y1="151.9" x2="944.7" y2="150.4" stroke="#E3B862" stroke-width="0.6" opacity="0.8"/>
<line x1="945.2" y1="147.4" x2="943.7" y2="145.9" stroke="#E3B862" stroke-width="0.6" opacity="0.8"/>
<path d="M948,160 Q950.5,151.5 951,143" fill="none" stroke="#DDAE58" stroke-width="0.9" opacity="0.9"/>
<line x1="949.4" y1="152.3" x2="950.9" y2="150.8" stroke="#E3B862" stroke-width="0.6" opacity="0.8"/>
<line x1="950.1" y1="148.1" x2="951.6" y2="146.6" stroke="#E3B862" stroke-width="0.6" opacity="0.8"/>
<ellipse cx="954.5" cy="190" rx="4" ry="10.5" fill="#E4BE48" transform="rotate(40 954.5 190)"/>
<ellipse cx="941.5" cy="240" rx="3.6" ry="9" fill="#DDB34A" transform="rotate(-35 941.5 240)"/>
<circle cx="937" cy="233.5" r="1.5" fill="#6E5A2A"/></svg></body></html>
